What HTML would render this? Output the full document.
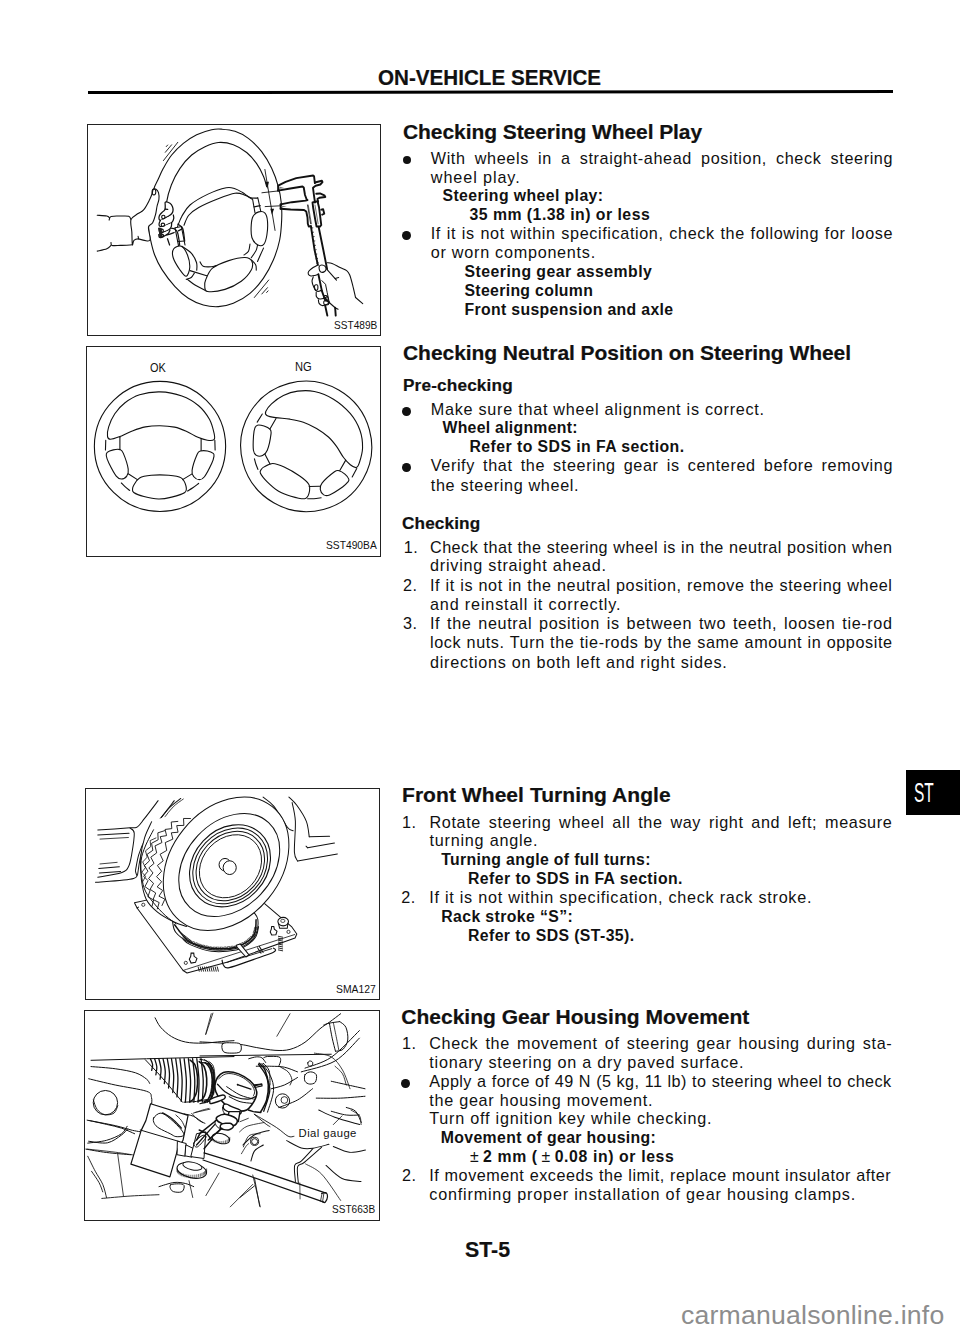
<!DOCTYPE html>
<html><head><meta charset="utf-8"><style>
html,body{margin:0;padding:0;background:#fff;}
body{width:960px;height:1332px;position:relative;overflow:hidden;font-family:"Liberation Sans",sans-serif;color:#111;}
.t{position:absolute;white-space:pre;}
.bu{position:absolute;background:#111;border-radius:50%;}
.rule{position:absolute;background:#111;}
svg{position:absolute;overflow:visible;}
.box{position:absolute;border:1.6px solid #222;box-sizing:border-box;}
</style></head><body>
<div class="box" style="left:86.6px;top:124.1px;width:294.40px;height:212.15px;border-width:1.6px"></div>
<div class="box" style="left:85.6px;top:345.9px;width:295.40px;height:211.10px;border-width:1.6px"></div>
<div class="box" style="left:85.1px;top:788.3px;width:294.80px;height:211.90px;border-width:1.6px"></div>
<div class="box" style="left:84.2px;top:1009.7px;width:295.70px;height:211.80px;border-width:1.6px"></div>
<svg style="left:0px;top:0px" width="960" height="1332" viewBox="0 0 6582.72 9133.52"><g transform="translate(1097.12,3060.96) rotate(0) translate(-480,-524)"><path d="M30,524 a450,446 0 1,0 900,0 a450,446 0 1,0 -900,0" fill="none" stroke="#111" stroke-width="7.54" stroke-linecap="round" stroke-linejoin="round" /><path d="M120,455C118.0,440.8 119.7,415.8 128,390C136.3,364.2 151.3,327.5 170,300C188.7,272.5 211.7,246.7 240,225C268.3,203.3 300.0,182.5 340,170C380.0,157.5 431.7,148.7 480,150C528.3,151.3 585.8,162.2 630,178C674.2,193.8 713.3,218.0 745,245C776.7,272.0 802.2,307.5 820,340C837.8,372.5 847.0,417.0 852,440C857.0,463.0 857.8,471.0 850,478C842.2,485.0 823.3,484.7 805,482C786.7,479.3 764.2,472.3 740,462C715.8,451.7 686.7,431.7 660,420C633.3,408.3 610.0,398.3 580,392C550.0,385.7 513.3,382.3 480,382C446.7,381.7 411.7,384.0 380,390C348.3,396.0 320.0,406.7 290,418C260.0,429.3 225.0,448.5 200,458C175.0,467.5 153.3,475.5 140,475C126.7,474.5 122.0,469.2 120,455Z" fill="none" stroke="#111" stroke-width="7.54" stroke-linecap="round" stroke-linejoin="round" /><path d="M205,462 L205,545" fill="none" stroke="#111" stroke-width="7.54" stroke-linecap="round" stroke-linejoin="round" /><path d="M762,470 L762,552" fill="none" stroke="#111" stroke-width="7.54" stroke-linecap="round" stroke-linejoin="round" /><path d="M108,482 L106,548" fill="none" stroke="#111" stroke-width="7.54" stroke-linecap="round" stroke-linejoin="round" /><path d="M856,482 L858,548" fill="none" stroke="#111" stroke-width="7.54" stroke-linecap="round" stroke-linejoin="round" /><path d="M215,775C219.2,779.2 230.5,791.5 240,800C249.5,808.5 266.7,821.7 272,826" fill="none" stroke="#111" stroke-width="7.54" stroke-linecap="round" stroke-linejoin="round" /><path d="M668,830C674.2,826.3 692.2,816.7 705,808C717.8,799.3 738.3,783.0 745,778" fill="none" stroke="#111" stroke-width="7.54" stroke-linecap="round" stroke-linejoin="round" /><path d="M118,565C126.0,558.0 145.5,551.2 160,548C174.5,544.8 193.7,542.3 205,546C216.3,549.7 218.5,547.7 228,570C237.5,592.3 258.0,653.7 262,680C266.0,706.3 259.8,716.7 252,728C244.2,739.3 227.0,748.0 215,748C203.0,748.0 194.2,746.0 180,728C165.8,710.0 141.3,663.0 130,640C118.7,617.0 114.0,602.5 112,590C110.0,577.5 110.0,572.0 118,565Z" fill="none" stroke="#111" stroke-width="7.54" stroke-linecap="round" stroke-linejoin="round" /><path d="M845,572C837.5,566.0 819.5,558.7 805,556C790.5,553.3 769.7,552.3 758,556C746.3,559.7 744.7,556.0 735,578C725.3,600.0 703.8,662.3 700,688C696.2,713.7 703.7,721.3 712,732C720.3,742.7 737.8,752.0 750,752C762.2,752.0 770.8,750.7 785,732C799.2,713.3 824.2,663.3 835,640C845.8,616.7 848.3,603.3 850,592C851.7,580.7 852.5,578.0 845,572Z" fill="none" stroke="#111" stroke-width="7.54" stroke-linecap="round" stroke-linejoin="round" /><path d="M262,712 L325,752" fill="none" stroke="#111" stroke-width="7.54" stroke-linecap="round" stroke-linejoin="round" /><path d="M635,752 L697,714" fill="none" stroke="#111" stroke-width="7.54" stroke-linecap="round" stroke-linejoin="round" /><path d="M300,790C308.0,777.5 320.0,751.3 340,740C360.0,728.7 386.7,725.0 420,722C453.3,719.0 505.8,719.0 540,722C574.2,725.0 605.3,727.8 625,740C644.7,752.2 653.8,778.3 658,795C662.2,811.7 666.3,827.2 650,840C633.7,852.8 590.0,864.5 560,872C530.0,879.5 501.7,885.7 470,885C438.3,884.3 398.3,875.5 370,868C341.7,860.5 313.0,848.8 300,840C287.0,831.2 292.0,823.3 292,815C292.0,806.7 292.0,802.5 300,790Z" fill="none" stroke="#111" stroke-width="7.54" stroke-linecap="round" stroke-linejoin="round" /></g><g transform="translate(2099.61,3060.96) rotate(30) translate(-480,-524)"><path d="M30,524 a450,446 0 1,0 900,0 a450,446 0 1,0 -900,0" fill="none" stroke="#111" stroke-width="7.54" stroke-linecap="round" stroke-linejoin="round" /><path d="M120,455C118.0,440.8 119.7,415.8 128,390C136.3,364.2 151.3,327.5 170,300C188.7,272.5 211.7,246.7 240,225C268.3,203.3 300.0,182.5 340,170C380.0,157.5 431.7,148.7 480,150C528.3,151.3 585.8,162.2 630,178C674.2,193.8 713.3,218.0 745,245C776.7,272.0 802.2,307.5 820,340C837.8,372.5 847.0,417.0 852,440C857.0,463.0 857.8,471.0 850,478C842.2,485.0 823.3,484.7 805,482C786.7,479.3 764.2,472.3 740,462C715.8,451.7 686.7,431.7 660,420C633.3,408.3 610.0,398.3 580,392C550.0,385.7 513.3,382.3 480,382C446.7,381.7 411.7,384.0 380,390C348.3,396.0 320.0,406.7 290,418C260.0,429.3 225.0,448.5 200,458C175.0,467.5 153.3,475.5 140,475C126.7,474.5 122.0,469.2 120,455Z" fill="none" stroke="#111" stroke-width="7.54" stroke-linecap="round" stroke-linejoin="round" /><path d="M205,462 L205,545" fill="none" stroke="#111" stroke-width="7.54" stroke-linecap="round" stroke-linejoin="round" /><path d="M762,470 L762,552" fill="none" stroke="#111" stroke-width="7.54" stroke-linecap="round" stroke-linejoin="round" /><path d="M108,482 L106,548" fill="none" stroke="#111" stroke-width="7.54" stroke-linecap="round" stroke-linejoin="round" /><path d="M856,482 L858,548" fill="none" stroke="#111" stroke-width="7.54" stroke-linecap="round" stroke-linejoin="round" /><path d="M215,775C219.2,779.2 230.5,791.5 240,800C249.5,808.5 266.7,821.7 272,826" fill="none" stroke="#111" stroke-width="7.54" stroke-linecap="round" stroke-linejoin="round" /><path d="M668,830C674.2,826.3 692.2,816.7 705,808C717.8,799.3 738.3,783.0 745,778" fill="none" stroke="#111" stroke-width="7.54" stroke-linecap="round" stroke-linejoin="round" /><path d="M118,565C126.0,558.0 145.5,551.2 160,548C174.5,544.8 193.7,542.3 205,546C216.3,549.7 218.5,547.7 228,570C237.5,592.3 258.0,653.7 262,680C266.0,706.3 259.8,716.7 252,728C244.2,739.3 227.0,748.0 215,748C203.0,748.0 194.2,746.0 180,728C165.8,710.0 141.3,663.0 130,640C118.7,617.0 114.0,602.5 112,590C110.0,577.5 110.0,572.0 118,565Z" fill="none" stroke="#111" stroke-width="7.54" stroke-linecap="round" stroke-linejoin="round" /><path d="M845,572C837.5,566.0 819.5,558.7 805,556C790.5,553.3 769.7,552.3 758,556C746.3,559.7 744.7,556.0 735,578C725.3,600.0 703.8,662.3 700,688C696.2,713.7 703.7,721.3 712,732C720.3,742.7 737.8,752.0 750,752C762.2,752.0 770.8,750.7 785,732C799.2,713.3 824.2,663.3 835,640C845.8,616.7 848.3,603.3 850,592C851.7,580.7 852.5,578.0 845,572Z" fill="none" stroke="#111" stroke-width="7.54" stroke-linecap="round" stroke-linejoin="round" /><path d="M262,712 L325,752" fill="none" stroke="#111" stroke-width="7.54" stroke-linecap="round" stroke-linejoin="round" /><path d="M635,752 L697,714" fill="none" stroke="#111" stroke-width="7.54" stroke-linecap="round" stroke-linejoin="round" /><path d="M300,790C308.0,777.5 320.0,751.3 340,740C360.0,728.7 386.7,725.0 420,722C453.3,719.0 505.8,719.0 540,722C574.2,725.0 605.3,727.8 625,740C644.7,752.2 653.8,778.3 658,795C662.2,811.7 666.3,827.2 650,840C633.7,852.8 590.0,864.5 560,872C530.0,879.5 501.7,885.7 470,885C438.3,884.3 398.3,875.5 370,868C341.7,860.5 313.0,848.8 300,840C287.0,831.2 292.0,823.3 292,815C292.0,806.7 292.0,802.5 300,790Z" fill="none" stroke="#111" stroke-width="7.54" stroke-linecap="round" stroke-linejoin="round" /></g></svg>
<svg style="left:140px;top:120px" width="160" height="200" viewBox="0 0 960.00 1200.00"><path d="M82,416C89.5,387.7 97.3,381.0 107,360C116.7,339.0 126.2,315.0 140,290C153.8,265.0 170.0,235.0 190,210C210.0,185.0 235.0,160.3 260,140C285.0,119.7 311.7,101.7 340,88C368.3,74.3 405.0,63.5 430,58C455.0,52.5 466.7,53.3 490,55C513.3,56.7 543.3,58.8 570,68C596.7,77.2 623.3,89.7 650,110C676.7,130.3 706.7,160.0 730,190C753.3,220.0 773.3,255.0 790,290C806.7,325.0 820.3,365.0 830,400C839.7,435.0 844.7,466.7 848,500C851.3,533.3 851.7,563.3 850,600C848.3,636.7 846.3,680.0 838,720C829.7,760.0 816.3,801.7 800,840C783.7,878.3 763.3,916.7 740,950C716.7,983.3 690.0,1015.0 660,1040C630.0,1065.0 591.7,1086.7 560,1100C528.3,1113.3 500.0,1118.3 470,1120C440.0,1121.7 410.0,1118.3 380,1110C350.0,1101.7 318.3,1088.3 290,1070C261.7,1051.7 236.3,1028.7 210,1000C183.7,971.3 152.3,929.7 132,898C111.7,866.3 99.3,839.3 88,810C76.7,780.7 70.2,750.2 64,722C57.8,693.8 51.3,673.0 51,641C50.7,609.0 56.8,567.5 62,530C67.2,492.5 74.5,444.3 82,416Z" fill="none" stroke="#111" stroke-width="6.60" stroke-linecap="round" stroke-linejoin="round" /><path d="M150,610C151.3,591.7 151.7,536.7 158,500C164.3,463.3 174.3,425.0 188,390C201.7,355.0 219.7,320.0 240,290C260.3,260.0 285.0,231.7 310,210C335.0,188.3 363.3,172.5 390,160C416.7,147.5 441.7,137.0 470,135C498.3,133.0 531.7,138.0 560,148C588.3,158.0 616.7,176.0 640,195C663.3,214.0 683.0,237.8 700,262C717.0,286.2 732.0,317.0 742,340C752.0,363.0 757.0,390.0 760,400" fill="none" stroke="#111" stroke-width="6.60" stroke-linecap="round" stroke-linejoin="round" /><path d="M140.4,243.6 L226.8,133.8" fill="none" stroke="#111" stroke-width="5.40" stroke-linecap="round" stroke-linejoin="round" /><path d="M151.8,193.8 L189.6,148.8" fill="none" stroke="#111" stroke-width="5.40" stroke-linecap="round" stroke-linejoin="round" /><path d="M157.5,159.6 L166.2,150" fill="none" stroke="#111" stroke-width="5.40" stroke-linecap="round" stroke-linejoin="round" /><path d="M686,1065 L772.5,960" fill="none" stroke="#111" stroke-width="5.40" stroke-linecap="round" stroke-linejoin="round" /><path d="M731,1044 L765,1006" fill="none" stroke="#111" stroke-width="5.40" stroke-linecap="round" stroke-linejoin="round" /><path d="M759.6,1035 L768.6,1025.4" fill="none" stroke="#111" stroke-width="5.40" stroke-linecap="round" stroke-linejoin="round" /></svg>
<svg style="left:170px;top:180px" width="120" height="120" viewBox="0 0 960.00 960.00"><path d="M60,372C65.8,358.3 78.3,318.7 95,290C111.7,261.3 125.8,229.2 160,200C194.2,170.8 251.7,138.0 300,115C348.3,92.0 413.3,69.5 450,62C486.7,54.5 498.3,63.7 520,70C541.7,76.3 560.0,88.3 580,100C600.0,111.7 620.0,132.5 640,140C660.0,147.5 690.0,144.2 700,145" fill="none" stroke="#111" stroke-width="8.80" stroke-linecap="round" stroke-linejoin="round" /><path d="M112,362C118.3,348.7 130.3,305.7 150,282C169.7,258.3 191.7,241.7 230,220C268.3,198.3 331.7,171.0 380,152C428.3,133.0 483.3,111.0 520,106C556.7,101.0 577.5,114.3 600,122C622.5,129.7 645.8,147.0 655,152" fill="none" stroke="#111" stroke-width="8.80" stroke-linecap="round" stroke-linejoin="round" /><path d="M40,382 L68,525" fill="none" stroke="#111" stroke-width="8.80" stroke-linecap="round" stroke-linejoin="round" /><path d="M92,378 L120,520" fill="none" stroke="#111" stroke-width="8.80" stroke-linecap="round" stroke-linejoin="round" /><path d="M62,492 L118,488" fill="none" stroke="#111" stroke-width="8.80" stroke-linecap="round" stroke-linejoin="round" /><path d="M42,382 L94,372" fill="none" stroke="#111" stroke-width="8.80" stroke-linecap="round" stroke-linejoin="round" /><path d="M30,550C40.8,535.0 71.7,521.7 90,530C108.3,538.3 128.7,571.7 140,600C151.3,628.3 159.7,671.7 158,700C156.3,728.3 143.0,766.7 130,770C117.0,773.3 97.5,745.0 80,720C62.5,695.0 33.3,648.3 25,620C16.7,591.7 19.2,565.0 30,550Z" fill="#fff" stroke="#111" stroke-width="8.80" stroke-linecap="round" stroke-linejoin="round" /><path d="M95,530C107.5,539.2 150.5,563.3 170,585C189.5,606.7 204.7,637.2 212,660C219.3,682.8 213.7,711.7 214,722" fill="none" stroke="#111" stroke-width="8.80" stroke-linecap="round" stroke-linejoin="round" /><path d="M160,725 L300,768" fill="none" stroke="#111" stroke-width="8.80" stroke-linecap="round" stroke-linejoin="round" /><path d="M130,795C136.7,792.5 159.2,788.3 170,780C180.8,771.7 190.8,750.8 195,745" fill="none" stroke="#111" stroke-width="8.80" stroke-linecap="round" stroke-linejoin="round" /><path d="M140,795C150.0,802.5 175.8,825.0 200,840C224.2,855.0 270.8,877.5 285,885" fill="none" stroke="#111" stroke-width="8.80" stroke-linecap="round" stroke-linejoin="round" /><path d="M285,800C295.3,775.8 309.2,730.8 340,705C370.8,679.2 426.7,659.2 470,645C513.3,630.8 569.2,619.2 600,620C630.8,620.8 646.7,633.3 655,650C663.3,666.7 664.2,693.3 650,720C635.8,746.7 605.0,784.2 570,810C535.0,835.8 485.0,861.3 440,875C395.0,888.7 327.0,896.2 300,892C273.0,887.8 280.5,865.3 278,850C275.5,834.7 274.7,824.2 285,800Z" fill="#fff" stroke="#111" stroke-width="8.80" stroke-linecap="round" stroke-linejoin="round" /><path d="M240,655C244.2,660.8 250.0,683.5 265,690C280.0,696.5 312.2,695.0 330,694C347.8,693.0 365.0,685.7 372,684" fill="none" stroke="#111" stroke-width="8.80" stroke-linecap="round" stroke-linejoin="round" /><path d="M665,290C675.0,272.5 694.2,259.2 710,255C725.8,250.8 748.3,252.5 760,265C771.7,277.5 777.5,300.8 780,330C782.5,359.2 780.0,409.2 775,440C770.0,470.8 762.5,502.0 750,515C737.5,528.0 715.8,527.2 700,518C684.2,508.8 663.3,486.3 655,460C646.7,433.7 648.3,388.3 650,360C651.7,331.7 655.0,307.5 665,290Z" fill="#fff" stroke="#111" stroke-width="8.80" stroke-linecap="round" stroke-linejoin="round" /><path d="M660,150 L680,262" fill="none" stroke="#111" stroke-width="8.80" stroke-linecap="round" stroke-linejoin="round" /><path d="M702,140 L726,250" fill="none" stroke="#111" stroke-width="8.80" stroke-linecap="round" stroke-linejoin="round" /><path d="M672,215 L722,205" fill="none" stroke="#111" stroke-width="8.80" stroke-linecap="round" stroke-linejoin="round" /><path d="M700,522C698.0,529.2 696.3,548.3 688,565C679.7,581.7 656.3,612.5 650,622" fill="none" stroke="#111" stroke-width="8.80" stroke-linecap="round" stroke-linejoin="round" /><path d="M748,545C743.7,554.5 730.0,584.2 722,602C714.0,619.8 703.7,643.7 700,652" fill="none" stroke="#111" stroke-width="8.80" stroke-linecap="round" stroke-linejoin="round" /><path d="M640,512C638.0,521.7 636.0,555.3 628,570C620.0,584.7 598.0,595.0 592,600" fill="none" stroke="#111" stroke-width="8.80" stroke-linecap="round" stroke-linejoin="round" /><path d="M652,640C657.7,646.7 679.7,666.3 686,680C692.3,693.7 689.3,715.0 690,722" fill="none" stroke="#111" stroke-width="8.80" stroke-linecap="round" stroke-linejoin="round" /></svg>
<svg style="left:86px;top:180px" width="100" height="100" viewBox="0 0 960.00 960.00"><path d="M108,338C123.3,339.2 180.5,341.0 200,345C219.5,349.0 220.8,359.2 225,362" fill="none" stroke="#111" stroke-width="10.56" stroke-linecap="round" stroke-linejoin="round" /><path d="M222,385C225.0,379.2 222.0,356.5 240,350C258.0,343.5 301.7,346.3 330,346C358.3,345.7 393.0,342.3 410,348C427.0,353.7 428.3,374.7 432,380" fill="none" stroke="#111" stroke-width="10.56" stroke-linecap="round" stroke-linejoin="round" /><path d="M108,683C123.3,679.2 178.0,669.2 200,660C222.0,650.8 233.3,633.3 240,628" fill="none" stroke="#111" stroke-width="10.56" stroke-linecap="round" stroke-linejoin="round" /><path d="M240,600C241.7,604.7 235.0,623.3 250,628C265.0,632.7 297.5,629.0 330,628C362.5,627.0 425.8,623.0 445,622" fill="none" stroke="#111" stroke-width="10.56" stroke-linecap="round" stroke-linejoin="round" /><path d="M432,380C442.0,350.3 479.5,337.8 500,322C520.5,306.2 536.7,307.0 555,285C573.3,263.0 596.7,215.8 610,190C623.3,164.2 629.2,146.3 635,130C640.8,113.7 638.8,99.0 645,92C651.2,85.0 663.5,83.0 672,88C680.5,93.0 691.3,105.8 696,122C700.7,138.2 702.3,163.3 700,185C697.7,206.7 687.3,227.8 682,252C676.7,276.2 675.0,303.7 668,330C661.0,356.3 651.3,389.7 640,410C628.7,430.3 604.2,424.5 600,452C595.8,479.5 621.7,553.7 615,575C608.3,596.3 579.2,581.7 560,580C540.8,578.3 516.7,565.0 500,565C483.3,565.0 469.2,570.8 460,580C450.8,589.2 448.3,633.3 445,620C441.7,606.7 442.2,540.0 440,500C437.8,460.0 422.0,409.7 432,380Z" fill="#fff" stroke="#111" stroke-width="10.56" stroke-linecap="round" stroke-linejoin="round" /><path d="M500,540L505,565" fill="none" stroke="#111" stroke-width="10.56" stroke-linecap="round" stroke-linejoin="round" /><ellipse cx="652" cy="115" rx="18" ry="28" fill="none" stroke="#111" stroke-width="10"/></svg>
<svg style="left:145px;top:195px" width="40" height="50" viewBox="0 0 960.00 1200.00"><path d="M490,170C509.2,161.7 571.7,181.7 600,200C628.3,218.3 648.0,250.0 660,280C672.0,310.0 675.3,351.7 672,380C668.7,408.3 658.7,428.3 640,450C621.3,471.7 588.3,491.7 560,510C531.7,528.3 496.7,545.0 470,560C443.3,575.0 420.0,593.3 400,600C380.0,606.7 360.8,610.0 350,600C339.2,590.0 333.3,561.7 335,540C336.7,518.3 344.2,493.3 360,470C375.8,446.7 410.0,420.0 430,400C450.0,380.0 470.8,375.0 480,350C489.2,325.0 483.3,280.0 485,250C486.7,220.0 470.8,178.3 490,170Z" fill="#fff" stroke="#111" stroke-width="30.00" stroke-linecap="round" stroke-linejoin="round" /><path d="M480,340 L545,345" fill="none" stroke="#111" stroke-width="30.00" stroke-linecap="round" stroke-linejoin="round" /><path d="M680,480C681.7,493.3 695.0,531.7 690,560C685.0,588.3 671.7,626.7 650,650C628.3,673.3 590.0,685.0 560,700C530.0,715.0 496.7,730.0 470,740C443.3,750.0 420.8,760.0 400,760C379.2,760.0 355.0,753.3 345,740C335.0,726.7 335.8,701.7 340,680C344.2,658.3 365.0,621.7 370,610" fill="#fff" stroke="#111" stroke-width="30.00" stroke-linecap="round" stroke-linejoin="round" /><path d="M640,670C638.3,685.0 640.0,733.3 630,760C620.0,786.7 605.0,810.0 580,830C555.0,850.0 510.0,868.3 480,880C450.0,891.7 422.5,900.0 400,900C377.5,900.0 356.7,896.7 345,880C333.3,863.3 332.5,813.3 330,800" fill="#fff" stroke="#111" stroke-width="30.00" stroke-linecap="round" stroke-linejoin="round" /><path d="M600,840C593.3,853.3 581.7,896.7 560,920C538.3,943.3 496.7,964.2 470,980C443.3,995.8 420.8,1009.2 400,1015C379.2,1020.8 356.7,1025.8 345,1015C333.3,1004.2 332.5,960.8 330,950" fill="#fff" stroke="#111" stroke-width="30.00" stroke-linecap="round" stroke-linejoin="round" /><path d="M700,900C683.3,906.7 630.0,930.0 600,940C570.0,950.0 533.3,956.7 520,960" fill="none" stroke="#111" stroke-width="30.00" stroke-linecap="round" stroke-linejoin="round" /><ellipse cx="440" cy="530" rx="40" ry="45" fill="none" stroke="#111" stroke-width="28"/><ellipse cx="430" cy="715" rx="42" ry="40" fill="none" stroke="#111" stroke-width="28"/><ellipse cx="410" cy="860" rx="30" ry="42" fill="none" stroke="#111" stroke-width="28"/><ellipse cx="420" cy="975" rx="25" ry="30" fill="none" stroke="#111" stroke-width="28"/><path d="M330,780 L400,790 L420,1010 L340,1020 Z" fill="#222"/><path d="M640,800C653.3,803.3 696.7,803.3 720,820C743.3,836.7 763.3,853.3 780,900C796.7,946.7 811.7,1050.0 820,1100C828.3,1150.0 828.3,1183.3 830,1200" fill="none" stroke="#111" stroke-width="30.00" stroke-linecap="round" stroke-linejoin="round" /><path d="M790,700C808.3,715.0 875.0,740.0 900,790C925.0,840.0 931.7,948.3 940,1000C948.3,1051.7 948.3,1083.3 950,1100" fill="none" stroke="#111" stroke-width="30.00" stroke-linecap="round" stroke-linejoin="round" /><path d="M540,1050 L590,1200" fill="none" stroke="#111" stroke-width="30.00" stroke-linecap="round" stroke-linejoin="round" /><path d="M800,860L880,820" fill="none" stroke="#111" stroke-width="30.00" stroke-linecap="round" stroke-linejoin="round" /></svg>
<svg style="left:250px;top:160px" width="130" height="170" viewBox="0 0 960.05 1255.45"><path d="M110,70 L185,520" fill="none" stroke="#111" stroke-width="6.65" stroke-linecap="round" stroke-linejoin="round" /><path d="M112,160 L140,160 L128,215Z M150,360 L178,360 L162,405Z" fill="#111"/><path d="M88,242 L212,228" fill="none" stroke="#111" stroke-width="6.65" stroke-linecap="round" stroke-linejoin="round" /><path d="M112,344 L232,338" fill="none" stroke="#111" stroke-width="6.65" stroke-linecap="round" stroke-linejoin="round" /></svg>
<svg style="left:270px;top:170px" width="60" height="60" viewBox="0 0 960.00 960.00"><path d="M130,330 L130,250 L250,190 L420,130 L690,88 L705,100 L718,210" fill="none" stroke="#111" stroke-width="30.40" stroke-linecap="round" stroke-linejoin="round" /><path d="M718,200 L830,172 L840,195 L805,232 L730,252 L688,285 L700,380 L720,520" fill="none" stroke="#111" stroke-width="30.40" stroke-linecap="round" stroke-linejoin="round" /><path d="M130,330 L300,300 L520,265 L540,280 L560,400 L590,480" fill="none" stroke="#111" stroke-width="30.40" stroke-linecap="round" stroke-linejoin="round" /><path d="M170,550 L350,515 L570,490 L600,480" fill="none" stroke="#111" stroke-width="30.40" stroke-linecap="round" stroke-linejoin="round" /><path d="M170,620 L330,632 L545,640 L580,665 L600,760 L605,860 L620,905 L655,900" fill="none" stroke="#111" stroke-width="30.40" stroke-linecap="round" stroke-linejoin="round" /><path d="M170,550 L170,620" fill="none" stroke="#111" stroke-width="30.40" stroke-linecap="round" stroke-linejoin="round" /><path d="M680,520 L760,500 L785,600 L820,880 L800,905 L745,905 L725,800 L690,600 L680,520" fill="none" stroke="#111" stroke-width="30.40" stroke-linecap="round" stroke-linejoin="round" /><path d="M740,380 L800,375 L870,405 L885,432 L790,445 L760,460 L770,510" fill="none" stroke="#111" stroke-width="30.40" stroke-linecap="round" stroke-linejoin="round" /><path d="M820,635 L850,628 L868,700 L835,715" fill="none" stroke="#111" stroke-width="30.40" stroke-linecap="round" stroke-linejoin="round" /><path d="M600,560 L650,860" fill="none" stroke="#111" stroke-width="12.80" stroke-linecap="round" stroke-linejoin="round" /><path d="M612,560 L662,860" fill="none" stroke="#111" stroke-width="9.60" stroke-linecap="round" stroke-linejoin="round" /><path d="M720,560 L770,860" fill="none" stroke="#111" stroke-width="9.60" stroke-linecap="round" stroke-linejoin="round" /><path d="M150,262 L240,290 L150,300Z M180,570 L270,580 L182,600Z" fill="#777"/></svg>
<svg style="left:300px;top:250px" width="70" height="70" viewBox="0 0 959.98 959.98"><path d="M150,-325 L200,0 L245,205" fill="none" stroke="#111" stroke-width="26.06" stroke-linecap="round" stroke-linejoin="round" /><path d="M255,-318 L320,0 L372,262" fill="none" stroke="#111" stroke-width="26.06" stroke-linecap="round" stroke-linejoin="round" /><path d="M153.85,-300 L175.85,-304" fill="none" stroke="#111" stroke-width="10.97" stroke-linecap="round" stroke-linejoin="round" /><path d="M163.09,-240 L185.09,-244" fill="none" stroke="#111" stroke-width="10.97" stroke-linecap="round" stroke-linejoin="round" /><path d="M172.32999999999998,-180 L194.32999999999998,-184" fill="none" stroke="#111" stroke-width="10.97" stroke-linecap="round" stroke-linejoin="round" /><path d="M181.57,-120 L203.57,-124" fill="none" stroke="#111" stroke-width="10.97" stroke-linecap="round" stroke-linejoin="round" /><path d="M190.81,-60 L212.81,-64" fill="none" stroke="#111" stroke-width="10.97" stroke-linecap="round" stroke-linejoin="round" /><path d="M200.05,0 L222.05,-4" fill="none" stroke="#111" stroke-width="10.97" stroke-linecap="round" stroke-linejoin="round" /><path d="M209.29,60 L231.29,56" fill="none" stroke="#111" stroke-width="10.97" stroke-linecap="round" stroke-linejoin="round" /><path d="M218.53,120 L240.53,116" fill="none" stroke="#111" stroke-width="10.97" stroke-linecap="round" stroke-linejoin="round" /><path d="M227.76999999999998,180 L249.76999999999998,176" fill="none" stroke="#111" stroke-width="10.97" stroke-linecap="round" stroke-linejoin="round" /><path d="M245,205C234.2,210.8 200.8,225.5 180,240C159.2,254.5 130.8,276.7 120,292C109.2,307.3 110.0,321.3 115,332C120.0,342.7 135.8,353.0 150,356C164.2,359.0 183.0,354.0 200,350C217.0,346.0 243.3,335.0 252,332" fill="#fff" stroke="#111" stroke-width="15.09" stroke-linecap="round" stroke-linejoin="round" /><path d="M265,222C270.8,211.2 286.7,204.5 300,205C313.3,205.5 335.7,214.2 345,225C354.3,235.8 358.5,257.5 356,270C353.5,282.5 341.8,294.7 330,300C318.2,305.3 295.8,307.0 285,302C274.2,297.0 268.3,283.3 265,270C261.7,256.7 259.2,232.8 265,222Z" fill="#fff" stroke="#111" stroke-width="15.09" stroke-linecap="round" stroke-linejoin="round" /><path d="M372,175C383.3,176.7 410.3,174.2 440,185C469.7,195.8 516.7,223.8 550,240C583.3,256.2 618.0,265.0 640,282C662.0,299.0 668.3,308.7 682,342C695.7,375.3 708.7,430.3 722,482C735.3,533.7 755.3,623.7 762,652" fill="none" stroke="#111" stroke-width="15.09" stroke-linecap="round" stroke-linejoin="round" /><path d="M762,652 L860,735" fill="none" stroke="#111" stroke-width="15.09" stroke-linecap="round" stroke-linejoin="round" /><path d="M372,270 L500,412" fill="none" stroke="#111" stroke-width="15.09" stroke-linecap="round" stroke-linejoin="round" /><path d="M482,392 L530,377" fill="none" stroke="#111" stroke-width="15.09" stroke-linecap="round" stroke-linejoin="round" /><path d="M182,368C179.2,378.3 163.7,406.3 165,430C166.3,453.7 180.5,488.3 190,510C199.5,531.7 210.0,550.7 222,560C234.0,569.3 249.0,567.7 262,566C275.0,564.3 293.7,552.7 300,550" fill="none" stroke="#111" stroke-width="15.09" stroke-linecap="round" stroke-linejoin="round" /><path d="M222,580C222.7,590.0 218.0,624.7 226,640C234.0,655.3 252.3,668.3 270,672C287.7,675.7 315.0,667.3 332,662C349.0,656.7 365.3,643.7 372,640" fill="none" stroke="#111" stroke-width="15.09" stroke-linecap="round" stroke-linejoin="round" /><path d="M252,682C253.7,690.3 253.7,718.7 262,732C270.3,745.3 287.0,758.7 302,762C317.0,765.3 337.0,757.0 352,752C367.0,747.0 385.3,735.3 392,732" fill="none" stroke="#111" stroke-width="15.09" stroke-linecap="round" stroke-linejoin="round" /><path d="M200,490C205.0,478.7 233.0,471.7 240,480C247.0,488.3 247.0,528.7 242,540C237.0,551.3 217.0,556.3 210,548C203.0,539.7 195.0,501.3 200,490Z" fill="none" stroke="#111" stroke-width="15.09" stroke-linecap="round" stroke-linejoin="round" /><path d="M252,332 L300,560 L332,652 L400,720" fill="none" stroke="#111" stroke-width="26.06" stroke-linecap="round" stroke-linejoin="round" /><path d="M300,420 L350,470 L372,580 L402,722" fill="none" stroke="#111" stroke-width="13.71" stroke-linecap="round" stroke-linejoin="round" /><path d="M330,630C335.8,620.8 365.8,625.0 375,635C384.2,645.0 390.8,680.8 385,690C379.2,699.2 349.2,700.0 340,690C330.8,680.0 324.2,639.2 330,630Z" fill="none" stroke="#111" stroke-width="15.09" stroke-linecap="round" stroke-linejoin="round" /><path d="M330,700C338.3,691.7 375.0,692.5 385,700C395.0,707.5 398.3,736.7 390,745C381.7,753.3 345.0,757.5 335,750C325.0,742.5 321.7,708.3 330,700Z" fill="none" stroke="#111" stroke-width="15.09" stroke-linecap="round" stroke-linejoin="round" /><path d="M345,762 L375,900" fill="none" stroke="#111" stroke-width="26.06" stroke-linecap="round" stroke-linejoin="round" /><path d="M482,792 L490,900" fill="none" stroke="#111" stroke-width="26.06" stroke-linecap="round" stroke-linejoin="round" /><path d="M482,792 L522,812" fill="none" stroke="#111" stroke-width="15.09" stroke-linecap="round" stroke-linejoin="round" /><path d="M400,720 L482,792" fill="none" stroke="#111" stroke-width="15.09" stroke-linecap="round" stroke-linejoin="round" /></svg>
<svg style="left:130px;top:900px" width="170" height="80" viewBox="0 0 959.99 451.76"><path d="M120,-5 L25,15 L40,45 L300,398 L322,412 L552,350 L932,215 L942,192 L912,150 L760,20" fill="none" stroke="#111" stroke-width="5.65" stroke-linecap="round" stroke-linejoin="round" /><path d="M40,45 L48,40" fill="none" stroke="#111" stroke-width="5.65" stroke-linecap="round" stroke-linejoin="round" /><path d="M300,398 L318,392 L930,195" fill="none" stroke="#111" stroke-width="4.52" stroke-linecap="round" stroke-linejoin="round" /><circle cx="75" cy="27" r="9" fill="none" stroke="#111" stroke-width="4.5"/><circle cx="315" cy="355" r="9" fill="none" stroke="#111" stroke-width="4.5"/><circle cx="895" cy="180" r="9" fill="none" stroke="#111" stroke-width="4.5"/><path d="M240,120C243.0,130.3 241.7,161.7 258,182C274.3,202.3 306.0,225.7 338,242C370.0,258.3 412.2,273.7 450,280C487.8,286.3 530.8,284.7 565,280C599.2,275.3 630.5,266.7 655,252C679.5,237.3 700.8,215.7 712,192C723.2,168.3 724.0,130.3 722,110C720.0,89.7 703.7,76.7 700,70" fill="#fff" stroke="#111" stroke-width="5.65" stroke-linecap="round" stroke-linejoin="round" /><path d="M252,140C265.3,155.3 297.3,210.0 332,232C366.7,254.0 415.3,266.5 460,272C504.7,277.5 560.3,277.0 600,265C639.7,253.0 679.3,225.5 698,200C716.7,174.5 709.7,126.7 712,112" fill="none" stroke="#111" stroke-width="8.47" stroke-linecap="round" stroke-linejoin="round" /><path d="M275,175L345,230" fill="none" stroke="#111" stroke-width="4.52" stroke-linecap="round" stroke-linejoin="round" /><rect x="299.8" y="205.5" width="14" height="12" transform="rotate(40.2 307.8 211.5)" fill="none" stroke="#111" stroke-width="3.5"/><rect x="315.3" y="218.6" width="14" height="12" transform="rotate(40.2 323.3 224.6)" fill="none" stroke="#111" stroke-width="3.5"/><rect x="332.3" y="229.2" width="14" height="12" transform="rotate(20.9 340.3 235.2)" fill="none" stroke="#111" stroke-width="3.5"/><rect x="351.3" y="236.4" width="14" height="12" transform="rotate(20.9 359.3 242.4)" fill="none" stroke="#111" stroke-width="3.5"/><rect x="370.2" y="243.7" width="14" height="12" transform="rotate(20.9 378.2 249.7)" fill="none" stroke="#111" stroke-width="3.5"/><rect x="389.2" y="250.9" width="14" height="12" transform="rotate(20.9 397.2 256.9)" fill="none" stroke="#111" stroke-width="3.5"/><rect x="408.8" y="255.9" width="14" height="12" transform="rotate(13.1 416.8 261.9)" fill="none" stroke="#111" stroke-width="3.5"/><rect x="428.6" y="260.5" width="14" height="12" transform="rotate(13.1 436.6 266.5)" fill="none" stroke="#111" stroke-width="3.5"/><rect x="448.4" y="265.2" width="14" height="12" transform="rotate(13.1 456.4 271.2)" fill="none" stroke="#111" stroke-width="3.5"/><rect x="468.6" y="266.0" width="14" height="12" transform="rotate(0.0 476.6 272.0)" fill="none" stroke="#111" stroke-width="3.5"/><rect x="488.9" y="266.0" width="14" height="12" transform="rotate(0.0 496.9 272.0)" fill="none" stroke="#111" stroke-width="3.5"/><rect x="509.2" y="266.0" width="14" height="12" transform="rotate(0.0 517.2 272.0)" fill="none" stroke="#111" stroke-width="3.5"/><rect x="529.4" y="265.3" width="14" height="12" transform="rotate(-5.7 537.4 271.3)" fill="none" stroke="#111" stroke-width="3.5"/><rect x="549.6" y="263.2" width="14" height="12" transform="rotate(-5.7 557.6 269.2)" fill="none" stroke="#111" stroke-width="3.5"/><rect x="569.8" y="261.2" width="14" height="12" transform="rotate(-5.7 577.8 267.2)" fill="none" stroke="#111" stroke-width="3.5"/><rect x="590.0" y="259.2" width="14" height="12" transform="rotate(-5.7 598.0 265.2)" fill="none" stroke="#111" stroke-width="3.5"/><rect x="608.4" y="250.9" width="14" height="12" transform="rotate(-26.1 616.4 256.9)" fill="none" stroke="#111" stroke-width="3.5"/><rect x="626.7" y="242.0" width="14" height="12" transform="rotate(-26.1 634.7 248.0)" fill="none" stroke="#111" stroke-width="3.5"/><rect x="644.9" y="233.0" width="14" height="12" transform="rotate(-26.1 652.9 239.0)" fill="none" stroke="#111" stroke-width="3.5"/><rect x="660.5" y="220.1" width="14" height="12" transform="rotate(-41.5 668.5 226.1)" fill="none" stroke="#111" stroke-width="3.5"/><rect x="675.7" y="206.7" width="14" height="12" transform="rotate(-41.5 683.7 212.7)" fill="none" stroke="#111" stroke-width="3.5"/><rect x="690.3" y="192.9" width="14" height="12" transform="rotate(-74.4 698.3 198.9)" fill="none" stroke="#111" stroke-width="3.5"/><rect x="695.8" y="173.3" width="14" height="12" transform="rotate(-74.4 703.8 179.3)" fill="none" stroke="#111" stroke-width="3.5"/><rect x="701.3" y="153.8" width="14" height="12" transform="rotate(-74.4 709.3 159.8)" fill="none" stroke="#111" stroke-width="3.5"/><path d="M300,222C306.7,227.0 313.3,240.7 340,252C366.7,263.3 416.7,285.0 460,290C503.3,295.0 565.3,288.7 600,282C634.7,275.3 649.3,262.8 668,250C686.7,237.2 702.3,221.7 712,205C721.7,188.3 723.7,159.2 726,150" fill="none" stroke="#111" stroke-width="5.65" stroke-linecap="round" stroke-linejoin="round" /><path d="M600,255 L622,248 L672,310 L655,322 L605,268Z" fill="#fff" stroke="#111" stroke-width="5.65" stroke-linecap="round" stroke-linejoin="round" /><path d="M520,340C521.3,344.7 521.3,361.0 528,368C534.7,375.0 531.3,387.5 560,382C588.7,376.5 659.2,349.0 700,335C740.8,321.0 784.7,306.8 805,298C825.3,289.2 821.2,286.3 822,282C822.8,277.7 812.0,273.7 810,272" fill="none" stroke="#111" stroke-width="6.78" stroke-linecap="round" stroke-linejoin="round" /><path d="M548,352 L800,275" fill="none" stroke="#111" stroke-width="5.08" stroke-linecap="round" stroke-linejoin="round" /><path d="M720,270 L740,300" fill="none" stroke="#111" stroke-width="5.65" stroke-linecap="round" stroke-linejoin="round" /><path d="M730,262 L752,296" fill="none" stroke="#111" stroke-width="5.65" stroke-linecap="round" stroke-linejoin="round" /><ellipse cx="865" cy="122" rx="30" ry="24" fill="#fff" stroke="#111" stroke-width="6"/><ellipse cx="863" cy="118" rx="12" ry="9" fill="none" stroke="#111" stroke-width="4"/><path d="M838,130 L845,160 L888,160 L892,130" fill="none" stroke="#111" stroke-width="5.65" stroke-linecap="round" stroke-linejoin="round" /><path d="M345,300 L360,300 L362,318 L378,330 L370,352 L345,356 L335,335 L343,318Z" fill="#fff" stroke="#111" stroke-width="6"/><path d="M800,150 L812,150 L815,165 L830,176 L824,196 L800,198 L792,180 L798,165Z" fill="#fff" stroke="#111" stroke-width="6"/><path d="M385,378 L391,402" fill="none" stroke="#111" stroke-width="5.08" stroke-linecap="round" stroke-linejoin="round" /><path d="M397,378 L403,402" fill="none" stroke="#111" stroke-width="5.08" stroke-linecap="round" stroke-linejoin="round" /><path d="M409,378 L415,402" fill="none" stroke="#111" stroke-width="5.08" stroke-linecap="round" stroke-linejoin="round" /><path d="M421,378 L427,402" fill="none" stroke="#111" stroke-width="5.08" stroke-linecap="round" stroke-linejoin="round" /><path d="M433,378 L439,402" fill="none" stroke="#111" stroke-width="5.08" stroke-linecap="round" stroke-linejoin="round" /><path d="M445,378 L451,402" fill="none" stroke="#111" stroke-width="5.08" stroke-linecap="round" stroke-linejoin="round" /><path d="M457,378 L463,402" fill="none" stroke="#111" stroke-width="5.08" stroke-linecap="round" stroke-linejoin="round" /><path d="M469,378 L475,402" fill="none" stroke="#111" stroke-width="5.08" stroke-linecap="round" stroke-linejoin="round" /><path d="M481,378 L487,402" fill="none" stroke="#111" stroke-width="5.08" stroke-linecap="round" stroke-linejoin="round" /><path d="M493,378 L499,402" fill="none" stroke="#111" stroke-width="5.08" stroke-linecap="round" stroke-linejoin="round" /><path d="M838,205 L862,210" fill="none" stroke="#111" stroke-width="5.08" stroke-linecap="round" stroke-linejoin="round" /><path d="M838,216 L862,221" fill="none" stroke="#111" stroke-width="5.08" stroke-linecap="round" stroke-linejoin="round" /><path d="M838,227 L862,232" fill="none" stroke="#111" stroke-width="5.08" stroke-linecap="round" stroke-linejoin="round" /><path d="M838,238 L862,243" fill="none" stroke="#111" stroke-width="5.08" stroke-linecap="round" stroke-linejoin="round" /><path d="M838,249 L862,254" fill="none" stroke="#111" stroke-width="5.08" stroke-linecap="round" stroke-linejoin="round" /><path d="M838,260 L862,265" fill="none" stroke="#111" stroke-width="5.08" stroke-linecap="round" stroke-linejoin="round" /><path d="M838,271 L862,276" fill="none" stroke="#111" stroke-width="5.08" stroke-linecap="round" stroke-linejoin="round" /><path d="M838,282 L862,287" fill="none" stroke="#111" stroke-width="5.08" stroke-linecap="round" stroke-linejoin="round" /><path d="M230,90C241.7,95.0 263.3,111.7 300,120C336.7,128.3 400.0,140.3 450,140C500.0,139.7 558.3,131.3 600,118C641.7,104.7 674.7,79.7 700,60C725.3,40.3 743.3,10.0 752,0" fill="none" stroke="#111" stroke-width="5.65" stroke-linecap="round" stroke-linejoin="round" /></svg>
<svg style="left:80px;top:770px" width="310" height="230" viewBox="0 0 960.07 712.31"><path d="M55,186C71.7,184.8 134.5,180.7 155,179C175.5,177.3 170.5,180.8 178,176C185.5,171.2 189.3,163.5 200,150C210.7,136.5 235.0,104.2 242,95" fill="none" stroke="#111" stroke-width="3.10" stroke-linecap="round" stroke-linejoin="round" /><path d="M55,201 L152,196" fill="none" stroke="#111" stroke-width="3.10" stroke-linecap="round" stroke-linejoin="round" /><path d="M62,214 L150,209" fill="none" stroke="#111" stroke-width="2.48" stroke-linecap="round" stroke-linejoin="round" /><path d="M155,180C157.2,182.7 167.2,182.3 168,196C168.8,209.7 163.0,244.7 160,262C157.0,279.3 155.3,290.7 150,300C144.7,309.3 143.8,312.7 128,318C112.2,323.3 67.2,329.7 55,332" fill="none" stroke="#111" stroke-width="3.10" stroke-linecap="round" stroke-linejoin="round" /><path d="M62,291 L115,286" fill="none" stroke="#111" stroke-width="2.48" stroke-linecap="round" stroke-linejoin="round" /><path d="M58,305 L122,300" fill="none" stroke="#111" stroke-width="3.10" stroke-linecap="round" stroke-linejoin="round" /><path d="M60,319 L126,314" fill="none" stroke="#111" stroke-width="3.10" stroke-linecap="round" stroke-linejoin="round" /><path d="M48,348C67.7,346.0 145.3,342.3 166,336C186.7,329.7 169.3,322.3 172,310C174.7,297.7 177.0,277.8 182,262C187.0,246.2 192.0,232.0 202,215C212.0,198.0 227.0,180.0 242,160C257.0,140.0 283.7,105.8 292,95" fill="none" stroke="#111" stroke-width="3.10" stroke-linecap="round" stroke-linejoin="round" /><path d="M178,326C180.3,313.7 183.7,276.0 192,252C200.3,228.0 214.7,203.7 228,182C241.3,160.3 258.0,137.7 272,122C286.0,106.3 305.3,93.7 312,88" fill="none" stroke="#111" stroke-width="3.10" stroke-linecap="round" stroke-linejoin="round" /><path d="M190,300C192.5,290.0 196.7,260.3 205,240C213.3,219.7 226.7,198.3 240,178C253.3,157.7 271.7,132.7 285,118C298.3,103.3 314.2,94.7 320,90" fill="none" stroke="#111" stroke-width="2.48" stroke-linecap="round" stroke-linejoin="round" /><path d="M567,84C572.5,88.7 587.3,96.3 600,112C612.7,127.7 633.0,165.3 643,178C653.0,190.7 657.2,186.3 660,188" fill="none" stroke="#111" stroke-width="3.10" stroke-linecap="round" stroke-linejoin="round" /><path d="M647,84C651.2,88.3 663.0,97.5 672,110C681.0,122.5 694.7,142.8 701,159C707.3,175.2 708.5,199.0 710,207" fill="none" stroke="#111" stroke-width="3.10" stroke-linecap="round" stroke-linejoin="round" /><path d="M710,207 L773,205" fill="none" stroke="#111" stroke-width="3.10" stroke-linecap="round" stroke-linejoin="round" /><path d="M657,101C658.7,110.7 665.8,133.3 667,159C668.2,184.7 662.8,234.5 664,255C665.2,275.5 672.3,277.5 674,282" fill="none" stroke="#111" stroke-width="3.10" stroke-linecap="round" stroke-linejoin="round" /><path d="M674,282 L797,260" fill="none" stroke="#111" stroke-width="3.10" stroke-linecap="round" stroke-linejoin="round" /><path d="M705,241 L788,226" fill="none" stroke="#111" stroke-width="3.10" stroke-linecap="round" stroke-linejoin="round" /><path d="M700,236 L705,241" fill="none" stroke="#111" stroke-width="3.10" stroke-linecap="round" stroke-linejoin="round" /><path d="M255,335L240,180" fill="none" stroke="#111" stroke-width="0.31" stroke-linecap="round" stroke-linejoin="round" /><path d="M222,160C200.3,170.0 205.7,191.7 200,210C194.3,228.3 189.7,248.3 188,270C186.3,291.7 187.2,318.3 190,340C192.8,361.7 196.7,383.3 205,400C213.3,416.7 225.8,428.3 240,440C254.2,451.7 275.0,462.5 290,470C305.0,477.5 308.3,481.7 330,485C351.7,488.3 411.7,520.8 420,490C428.3,459.2 395.0,356.7 380,300C365.0,243.3 356.3,173.3 330,150C303.7,126.7 243.7,150.0 222,160Z" fill="#fff" stroke="none"/><path d="M222,160C218.3,168.3 205.7,191.7 200,210C194.3,228.3 189.7,248.3 188,270C186.3,291.7 187.2,318.3 190,340C192.8,361.7 196.7,383.3 205,400C213.3,416.7 225.8,428.3 240,440C254.2,451.7 275.0,462.5 290,470C305.0,477.5 323.3,482.5 330,485" fill="none" stroke="#111" stroke-width="3.10" stroke-linecap="round" stroke-linejoin="round" /></svg>
<svg style="left:140px;top:810px" width="60" height="120" viewBox="0 0 666.00 1332.00"><path d="M560.2,94.4 L483.1,94.0 L486.9,171.0 L407.6,173.2 L422.4,246.8 L347.6,253.2 L364.7,323.3 L280.3,361.7 L296.6,448.9 L223.4,491.1 L257.7,564.2 L193.3,615.8 L240.0,680.0 L184.0,740.0 L239.8,796.4 L190.7,853.6 L252.2,893.2 L210.3,956.8 L276.0,989.6 L244.0,1060.4" fill="none" stroke="#111" stroke-width="9.99" stroke-linecap="round" stroke-linejoin="round" /><path d="M420.0,126.6 L346.7,133.4 L353.3,206.6 L278.4,215.6 L295.0,284.4 L225.0,295.6 L243.3,361.6 L166.7,398.4 L185.2,476.3 L119.8,523.7 L155.8,592.8 L98.2,642.2 L144.0,698.5 L95.5,761.5 L150.4,814.2 L112.1,880.8 L174.4,921.1 L145.6,993.9 L212.7,1027.4 L192.3,1097.6" fill="none" stroke="#111" stroke-width="9.99" stroke-linecap="round" stroke-linejoin="round" /><path d="M274.5,228.9 L198.0,253.6 L201.5,330.7 L128.5,369.3 L142.9,447.2 L78.1,492.8 L105.7,563.6 L49.3,616.4 L88.0,679.6 L41.0,735.4 L89.4,784.9 L54.6,850.1 L112.6,891.8 L87.4,963.2 L151.0,998.3 L134.0,1066.7" fill="none" stroke="#111" stroke-width="9.99" stroke-linecap="round" stroke-linejoin="round" /><path d="M177.1,310.3 L112.9,339.7 L119.0,406.3 L61.0,453.7 L79.7,523.3 L30.3,576.7 L60.0,639.6 L21.0,690.4 L61.7,736.5 L31.3,793.5" fill="none" stroke="#111" stroke-width="8.88" stroke-linecap="round" stroke-linejoin="round" /><path d="M150,220C135.0,250.0 83.0,343.3 60,400C37.0,456.7 18.7,501.7 12,560C5.3,618.3 12.0,693.3 20,750C28.0,806.7 38.3,853.3 60,900C81.7,946.7 113.3,985.0 150,1030C186.7,1075.0 238.3,1131.3 280,1170C321.7,1208.7 380.0,1246.7 400,1262" fill="none" stroke="#111" stroke-width="11.10" stroke-linecap="round" stroke-linejoin="round" /></svg>
<svg style="left:150px;top:790px" width="150" height="150" viewBox="0 0 960.00 960.00"><ellipse cx="487" cy="472" rx="470" ry="350" transform="rotate(-51 487 472)" fill="#fff" stroke="#111" stroke-width="6.40"/><ellipse cx="507" cy="480" rx="370" ry="275" transform="rotate(-47 507 480)" fill="none" stroke="#111" stroke-width="6.40"/><ellipse cx="512" cy="485" rx="285" ry="234" transform="rotate(-47 512 485)" fill="none" stroke="#111" stroke-width="7.04"/><ellipse cx="513" cy="486" rx="263" ry="216" transform="rotate(-47 513 486)" fill="none" stroke="#111" stroke-width="6.40"/><ellipse cx="514" cy="487" rx="241" ry="198" transform="rotate(-47 514 487)" fill="none" stroke="#111" stroke-width="6.40"/><ellipse cx="515" cy="488" rx="219" ry="180" transform="rotate(-47 515 488)" fill="none" stroke="#111" stroke-width="5.76"/><ellipse cx="480" cy="478" rx="38" ry="40" transform="rotate(0 480 478)" fill="none" stroke="#111" stroke-width="6.40"/><ellipse cx="510" cy="497" rx="42" ry="44" transform="rotate(0 510 497)" fill="#fff" stroke="#111" stroke-width="6.40"/></svg>
<svg style="left:84px;top:1010px" width="150" height="150" viewBox="0 0 960.00 960.00"><path d="M455,50C460.8,60.0 472.5,90.0 490,110C507.5,130.0 533.3,154.2 560,170C586.7,185.8 616.7,198.0 650,205C683.3,212.0 721.7,212.5 760,212C798.3,211.5 846.7,204.7 880,202C913.3,199.3 946.7,197.0 960,196" fill="none" stroke="#111" stroke-width="6.40" stroke-linecap="round" stroke-linejoin="round" /><path d="M780,155 L825,20" fill="none" stroke="#111" stroke-width="5.12" stroke-linecap="round" stroke-linejoin="round" /><path d="M45,322 L400,312 L960,298" fill="none" stroke="#111" stroke-width="6.40" stroke-linecap="round" stroke-linejoin="round" /><path d="M45,362C70.8,364.3 152.5,369.3 200,376C247.5,382.7 296.7,391.0 330,402C363.3,413.0 385.0,430.7 400,442C415.0,453.3 416.7,465.3 420,470" fill="none" stroke="#111" stroke-width="6.40" stroke-linecap="round" stroke-linejoin="round" /><path d="M30,440C58.3,446.7 138.3,466.7 200,480C261.7,493.3 361.3,506.7 400,520C438.7,533.3 426.7,545.0 432,560C437.3,575.0 432.0,601.7 432,610" fill="none" stroke="#111" stroke-width="6.40" stroke-linecap="round" stroke-linejoin="round" /><circle cx="137" cy="593" r="78" fill="none" stroke="#111" stroke-width="6.4"/><path d="M20,705C50.0,710.8 151.7,729.2 200,740C248.3,750.8 276.7,762.5 310,770C343.3,777.5 385.0,782.5 400,785" fill="none" stroke="#111" stroke-width="6.40" stroke-linecap="round" stroke-linejoin="round" /><path d="M30,840C50.0,841.7 115.0,856.7 150,850C185.0,843.3 218.3,815.0 240,800C261.7,785.0 273.3,766.7 280,760" fill="none" stroke="#111" stroke-width="6.40" stroke-linecap="round" stroke-linejoin="round" /><path d="M20,890C50.0,893.3 148.3,903.3 200,910C251.7,916.7 308.3,926.7 330,930" fill="none" stroke="#111" stroke-width="5.12" stroke-linecap="round" stroke-linejoin="round" /><path d="M392,318 L470,400 L540,480 L630,590" fill="none" stroke="#111" stroke-width="6.40" stroke-linecap="round" stroke-linejoin="round" /><path d="M425,312C427.3,318.2 437.7,336.8 439,349.125C440.3,361.5 434.0,380.1 433,386.25" fill="none" stroke="#111" stroke-width="8.32" stroke-linecap="round" stroke-linejoin="round" /><path d="M452,312C454.3,320.6 464.7,346.2 466,363.3C467.3,380.4 461.0,406.1 460,414.6" fill="none" stroke="#111" stroke-width="8.32" stroke-linecap="round" stroke-linejoin="round" /><path d="M479,312C481.3,322.9 491.7,355.7 493,377.475C494.3,399.3 488.0,432.0 487,442.95" fill="none" stroke="#111" stroke-width="8.32" stroke-linecap="round" stroke-linejoin="round" /><path d="M506,312C508.3,325.3 518.7,365.1 520,391.65C521.3,418.2 515.0,458.0 514,471.3" fill="none" stroke="#111" stroke-width="8.32" stroke-linecap="round" stroke-linejoin="round" /><path d="M533,312C535.3,327.6 545.7,374.6 547,405.825C548.3,437.1 542.0,484.0 541,499.65" fill="none" stroke="#111" stroke-width="8.32" stroke-linecap="round" stroke-linejoin="round" /><path d="M560,312C562.3,330.0 572.7,384.0 574,420.0C575.3,456.0 569.0,510.0 568,528.0" fill="none" stroke="#111" stroke-width="8.32" stroke-linecap="round" stroke-linejoin="round" /><path d="M587,312C589.3,332.4 599.7,393.4 601,434.175C602.3,474.9 596.0,536.0 595,556.35" fill="none" stroke="#111" stroke-width="8.32" stroke-linecap="round" stroke-linejoin="round" /><path d="M614,312C616.3,334.7 626.7,402.9 628,448.35C629.3,493.8 623.0,562.0 622,584.7" fill="none" stroke="#111" stroke-width="8.32" stroke-linecap="round" stroke-linejoin="round" /><path d="M641,312C643.3,335.2 653.7,404.7 655,451.0C656.3,497.3 650.0,566.8 649,590" fill="none" stroke="#111" stroke-width="8.32" stroke-linecap="round" stroke-linejoin="round" /><path d="M668,312C670.3,335.2 680.7,404.7 682,451.0C683.3,497.3 677.0,566.8 676,590" fill="none" stroke="#111" stroke-width="8.32" stroke-linecap="round" stroke-linejoin="round" /><path d="M695,312C697.3,335.2 707.7,404.7 709,451.0C710.3,497.3 704.0,566.8 703,590" fill="none" stroke="#111" stroke-width="8.32" stroke-linecap="round" stroke-linejoin="round" /><path d="M722,312C724.3,335.2 734.7,404.7 736,451.0C737.3,497.3 731.0,566.8 730,590" fill="none" stroke="#111" stroke-width="8.32" stroke-linecap="round" stroke-linejoin="round" /><path d="M749,312C751.3,335.2 761.7,404.7 763,451.0C764.3,497.3 758.0,566.8 757,590" fill="none" stroke="#111" stroke-width="8.32" stroke-linecap="round" stroke-linejoin="round" /><path d="M640,590C653.3,589.2 693.3,588.3 720,585C746.7,581.7 786.7,572.5 800,570" fill="none" stroke="#111" stroke-width="6.40" stroke-linecap="round" stroke-linejoin="round" /><path d="M742,315C750.0,317.5 776.2,319.2 790,330C803.8,340.8 818.3,356.7 825,380C831.7,403.3 831.7,440.0 830,470C828.3,500.0 821.7,540.0 815,560C808.3,580.0 794.2,585.0 790,590" fill="none" stroke="#111" stroke-width="7.68" stroke-linecap="round" stroke-linejoin="round" /><path d="M770,318C775.8,322.5 796.7,328.0 805,345C813.3,362.0 818.8,390.8 820,420C821.2,449.2 817.0,493.3 812,520C807.0,546.7 793.7,570.0 790,580" fill="none" stroke="#111" stroke-width="5.76" stroke-linecap="round" stroke-linejoin="round" /><path d="M800,330C804.7,335.0 821.7,341.7 828,360C834.3,378.3 837.7,410.0 838,440C838.3,470.0 831.3,523.3 830,540" fill="none" stroke="#111" stroke-width="5.76" stroke-linecap="round" stroke-linejoin="round" /><path d="M700,660C710.0,656.7 743.3,645.0 760,640C776.7,635.0 793.3,631.7 800,630" fill="none" stroke="#111" stroke-width="5.12" stroke-linecap="round" stroke-linejoin="round" /><path d="M640,665C650.0,667.5 680.0,670.8 700,680C720.0,689.2 750.0,713.3 760,720" fill="none" stroke="#111" stroke-width="6.40" stroke-linecap="round" stroke-linejoin="round" /></svg>
<svg style="left:200px;top:1010px" width="180" height="120" viewBox="0 0 959.94 639.96"><path d="M0,170C33.3,172.0 150.0,177.0 200,182C250.0,187.0 266.7,194.5 300,200C333.3,205.5 370.0,213.3 400,215C430.0,216.7 453.3,217.2 480,210C506.7,202.8 533.3,190.3 560,172C586.7,153.7 618.3,117.8 640,100C661.7,82.2 671.7,78.3 690,65C708.3,51.7 740.0,27.5 750,20" fill="none" stroke="#111" stroke-width="5.33" stroke-linecap="round" stroke-linejoin="round" /><path d="M30,130 L60,20" fill="none" stroke="#111" stroke-width="4.27" stroke-linecap="round" stroke-linejoin="round" /><path d="M410,140 L480,20" fill="none" stroke="#111" stroke-width="4.27" stroke-linecap="round" stroke-linejoin="round" /><path d="M690,70C692.5,83.3 699.7,125.3 705,150C710.3,174.7 719.2,206.7 722,218" fill="none" stroke="#111" stroke-width="5.33" stroke-linecap="round" stroke-linejoin="round" /><path d="M745,62C750.5,67.0 770.8,75.7 778,92C785.2,108.3 790.7,140.3 788,160C785.3,179.7 773.0,200.0 762,210C751.0,220.0 728.7,218.3 722,220" fill="none" stroke="#111" stroke-width="5.33" stroke-linecap="round" stroke-linejoin="round" /><path d="M712,72C714.7,85.0 723.3,126.7 728,150C732.7,173.3 738.0,201.7 740,212" fill="none" stroke="#111" stroke-width="4.27" stroke-linecap="round" stroke-linejoin="round" /><path d="M660,80C665.0,78.3 675.8,73.0 690,70C704.2,67.0 735.8,63.3 745,62" fill="none" stroke="#111" stroke-width="5.33" stroke-linecap="round" stroke-linejoin="round" /><path d="M0,245 L700,236" fill="none" stroke="#111" stroke-width="5.33" stroke-linecap="round" stroke-linejoin="round" /><path d="M120,180C112.5,187.8 116.7,213.7 125,222C133.3,230.3 155.0,230.0 170,230C185.0,230.0 207.5,230.0 215,222C222.5,214.0 222.5,189.8 215,182C207.5,174.2 185.8,175.3 170,175C154.2,174.7 127.5,172.2 120,180Z" fill="#fff" stroke="#111" stroke-width="5.33" stroke-linecap="round" stroke-linejoin="round" /><path d="M575,282C575.8,277.7 580.8,272.7 585,272C589.2,271.3 597.8,274.0 600,278C602.2,282.0 601.3,292.7 598,296C594.7,299.3 583.8,300.3 580,298C576.2,295.7 574.2,286.3 575,282Z" fill="none" stroke="#111" stroke-width="5.33" stroke-linecap="round" stroke-linejoin="round" /><path d="M560,310C583.3,300.3 651.7,285.3 700,252C748.3,218.7 825.0,133.7 850,110" fill="none" stroke="#111" stroke-width="5.33" stroke-linecap="round" stroke-linejoin="round" /><path d="M540,330C570.0,320.3 668.3,302.0 720,272C771.7,242.0 828.3,170.3 850,150" fill="none" stroke="#111" stroke-width="5.33" stroke-linecap="round" stroke-linejoin="round" /><path d="M560,345C565.0,336.7 580.0,330.0 590,330C600.0,330.0 615.8,335.8 620,345C624.2,354.2 620.8,376.7 615,385C609.2,393.3 594.2,395.8 585,395C575.8,394.2 564.2,388.3 560,380C555.8,371.7 555.0,353.3 560,345Z" fill="none" stroke="#111" stroke-width="5.33" stroke-linecap="round" stroke-linejoin="round" /><circle cx="440" cy="485" r="38" fill="none" stroke="#111" stroke-width="5.3"/><circle cx="450" cy="480" r="18" fill="none" stroke="#111" stroke-width="4.5"/><path d="M300,300C313.3,300.0 355.0,299.2 380,300C405.0,300.8 426.7,300.0 450,305C473.3,310.0 508.3,325.8 520,330" fill="none" stroke="#111" stroke-width="5.33" stroke-linecap="round" stroke-linejoin="round" /><path d="M380,420C391.7,416.7 426.7,410.0 450,400C473.3,390.0 508.3,366.7 520,360" fill="none" stroke="#111" stroke-width="5.33" stroke-linecap="round" stroke-linejoin="round" /><path d="M430,305C436.7,309.2 460.0,319.2 470,330C480.0,340.8 488.3,358.3 490,370C491.7,381.7 481.7,395.0 480,400" fill="none" stroke="#111" stroke-width="4.80" stroke-linecap="round" stroke-linejoin="round" /><path d="M260,260C266.7,258.3 288.3,250.8 300,250C311.7,249.2 321.7,250.0 330,255C338.3,260.0 346.7,275.8 350,280" fill="none" stroke="#111" stroke-width="5.33" stroke-linecap="round" stroke-linejoin="round" /><path d="M340,255C343.3,253.8 346.7,248.8 360,248C373.3,247.2 408.3,246.3 420,250C431.7,253.7 430.0,261.7 430,270C430.0,278.3 421.7,295.0 420,300" fill="none" stroke="#111" stroke-width="5.33" stroke-linecap="round" stroke-linejoin="round" /><path d="M312,290C318.7,300.0 342.0,326.7 352,350C362.0,373.3 374.0,398.3 372,430C370.0,461.7 345.3,521.7 340,540" fill="none" stroke="#111" stroke-width="6.93" stroke-linecap="round" stroke-linejoin="round" /><path d="M330,285C337.5,295.8 364.7,325.8 375,350C385.3,374.2 394.5,397.5 392,430C389.5,462.5 365.3,525.8 360,545" fill="none" stroke="#111" stroke-width="5.33" stroke-linecap="round" stroke-linejoin="round" /><path d="M285,400 L330,395" fill="none" stroke="#111" stroke-width="6.40" stroke-linecap="round" stroke-linejoin="round" /><path d="M0,280C6.7,280.8 28.3,278.3 40,285C51.7,291.7 64.2,297.5 70,320C75.8,342.5 77.5,393.3 75,420C72.5,446.7 67.5,466.7 55,480C42.5,493.3 9.2,496.7 0,500" fill="none" stroke="#111" stroke-width="6.40" stroke-linecap="round" stroke-linejoin="round" /><path d="M420,520C436.7,513.3 490.0,496.7 520,480C550.0,463.3 586.7,430.0 600,420" fill="none" stroke="#111" stroke-width="5.33" stroke-linecap="round" stroke-linejoin="round" /><path d="M700,380C715.0,383.3 760.0,393.3 790,400C820.0,406.7 865.0,416.7 880,420" fill="none" stroke="#111" stroke-width="5.33" stroke-linecap="round" stroke-linejoin="round" /><path d="M620,470C641.7,470.0 706.7,471.7 750,470C793.3,468.3 858.3,461.7 880,460" fill="none" stroke="#111" stroke-width="5.33" stroke-linecap="round" stroke-linejoin="round" /><path d="M700,540C713.3,543.3 755.0,556.7 780,560C805.0,563.3 838.3,560.0 850,560" fill="none" stroke="#111" stroke-width="5.33" stroke-linecap="round" stroke-linejoin="round" /><path d="M780,520C788.3,523.3 816.7,526.7 830,540C843.3,553.3 855.0,590.0 860,600" fill="none" stroke="#111" stroke-width="5.33" stroke-linecap="round" stroke-linejoin="round" /><path d="M720,300C726.7,306.7 750.0,323.3 760,340C770.0,356.7 776.7,390.0 780,400" fill="none" stroke="#111" stroke-width="4.27" stroke-linecap="round" stroke-linejoin="round" /><path d="M610,230C625.0,233.3 675.0,235.0 700,250C725.0,265.0 743.3,291.7 760,320C776.7,348.3 793.3,403.3 800,420" fill="none" stroke="#111" stroke-width="4.27" stroke-linecap="round" stroke-linejoin="round" /></svg>
<svg style="left:84px;top:1100px" width="180" height="122" viewBox="0 0 959.94 650.63"><path d="M50,0C53.3,8.3 60.0,37.0 70,50C80.0,63.0 95.0,74.7 110,78C125.0,81.3 148.3,78.0 160,70C171.7,62.0 176.7,36.7 180,30" fill="none" stroke="#111" stroke-width="4.80" stroke-linecap="round" stroke-linejoin="round" /><path d="M30,110C45.0,113.3 91.7,123.3 120,130C148.3,136.7 175.0,141.7 200,150C225.0,158.3 258.3,175.0 270,180" fill="none" stroke="#111" stroke-width="5.33" stroke-linecap="round" stroke-linejoin="round" /><path d="M20,230C36.7,227.5 90.0,223.3 120,215C150.0,206.7 181.7,192.5 200,180C218.3,167.5 225.0,146.7 230,140" fill="none" stroke="#111" stroke-width="5.33" stroke-linecap="round" stroke-linejoin="round" /><path d="M10,262C28.3,265.0 80.0,275.0 120,280C160.0,285.0 228.3,290.0 250,292" fill="none" stroke="#111" stroke-width="5.33" stroke-linecap="round" stroke-linejoin="round" /><path d="M20,300C26.7,313.3 46.7,355.0 60,380C73.3,405.0 90.0,426.7 100,450C110.0,473.3 116.7,508.3 120,520" fill="none" stroke="#111" stroke-width="4.80" stroke-linecap="round" stroke-linejoin="round" /><path d="M40,380C46.7,390.0 70.0,421.7 80,440C90.0,458.3 96.7,481.7 100,490" fill="none" stroke="#111" stroke-width="4.80" stroke-linecap="round" stroke-linejoin="round" /><path d="M95,525C120.8,522.8 199.2,515.3 250,512C300.8,508.7 375.0,506.2 400,505" fill="none" stroke="#111" stroke-width="4.80" stroke-linecap="round" stroke-linejoin="round" /><path d="M400,462C413.3,458.3 456.7,442.8 480,440C503.3,437.2 522.5,441.3 540,445C557.5,448.7 577.5,459.2 585,462" fill="none" stroke="#111" stroke-width="5.33" stroke-linecap="round" stroke-linejoin="round" /><path d="M462,452C452.3,457.8 462.0,478.3 470,485C478.0,491.7 500.0,492.8 510,492C520.0,491.2 527.0,487.0 530,480C533.0,473.0 539.3,454.7 528,450C516.7,445.3 471.7,446.2 462,452Z" fill="none" stroke="#111" stroke-width="5.33" stroke-linecap="round" stroke-linejoin="round" /><path d="M180,290 L210,510" fill="none" stroke="#111" stroke-width="4.27" stroke-linecap="round" stroke-linejoin="round" /><path d="M650,510 L720,390" fill="none" stroke="#111" stroke-width="4.27" stroke-linecap="round" stroke-linejoin="round" /><path d="M780,570 L900,450" fill="none" stroke="#111" stroke-width="4.27" stroke-linecap="round" stroke-linejoin="round" /><path d="M900,400 L940,570" fill="none" stroke="#111" stroke-width="4.27" stroke-linecap="round" stroke-linejoin="round" /><path d="M560,430L580,520" fill="none" stroke="#111" stroke-width="4.27" stroke-linecap="round" stroke-linejoin="round" /><path d="M355,20 L555,82 L528,215 L500,262 L458,410 L250,342 L305,162 L330,110Z" fill="#fff" stroke="#111" stroke-width="6.40" stroke-linecap="round" stroke-linejoin="round" /><path d="M300,160 L510,222" fill="none" stroke="#111" stroke-width="5.33" stroke-linecap="round" stroke-linejoin="round" /><path d="M372,95C377.8,85.8 395.3,69.2 410,70C424.7,70.8 441.7,85.0 460,100C478.3,115.0 508.3,145.0 520,160C531.7,175.0 535.0,184.2 530,190C525.0,195.8 501.7,196.7 490,195C478.3,193.3 475.0,187.5 460,180C445.0,172.5 414.2,159.2 400,150C385.8,140.8 379.7,134.2 375,125C370.3,115.8 366.2,104.2 372,95Z" fill="none" stroke="#111" stroke-width="5.33" stroke-linecap="round" stroke-linejoin="round" /><path d="M420,68C428.3,73.3 453.3,86.3 470,100C486.7,113.7 511.7,141.7 520,150" fill="none" stroke="#111" stroke-width="6.40" stroke-linecap="round" stroke-linejoin="round" /><path d="M490,80C495.0,85.0 511.7,98.3 520,110C528.3,121.7 536.7,143.3 540,150" fill="none" stroke="#111" stroke-width="4.80" stroke-linecap="round" stroke-linejoin="round" /><path d="M500,220 L545,232 L540,300 L498,292Z" fill="#fff" stroke="#111" stroke-width="5.33" stroke-linecap="round" stroke-linejoin="round" /><path d="M545,240 L582,258 L575,305 L540,298Z" fill="#fff" stroke="#111" stroke-width="5.33" stroke-linecap="round" stroke-linejoin="round" /><path d="M570,300 L600,180 L650,170 L640,310Z" fill="#fff" stroke="#111" stroke-width="5.33" stroke-linecap="round" stroke-linejoin="round" /><path d="M585,230C589.2,220.0 619.2,195.0 630,190C640.8,185.0 654.2,190.0 650,200C645.8,210.0 615.8,245.0 605,250C594.2,255.0 580.8,240.0 585,230Z" fill="none" stroke="#111" stroke-width="5.33" stroke-linecap="round" stroke-linejoin="round" /><path d="M640,282 L832,341" fill="none" stroke="#111" stroke-width="6.93" stroke-linecap="round" stroke-linejoin="round" /><path d="M635,320 L832,388" fill="none" stroke="#111" stroke-width="6.93" stroke-linecap="round" stroke-linejoin="round" /><ellipse cx="575" cy="375" rx="80" ry="40" transform="rotate(12 575 375)" fill="#fff" stroke="#111" stroke-width="6"/><ellipse cx="578" cy="352" rx="52" ry="20" transform="rotate(12 578 352)" fill="#fff" stroke="#111" stroke-width="5"/><path d="M495.984932752389,381.2573786016092 L495.984932752389,367.2573786016092" fill="none" stroke="#111" stroke-width="3.20" stroke-linecap="round" stroke-linejoin="round" /><path d="M498.37993466520555,386.50397309728066 L498.37993466520555,372.50397309728066" fill="none" stroke="#111" stroke-width="3.20" stroke-linecap="round" stroke-linejoin="round" /><path d="M502.16179626729473,391.54234019866084 L502.16179626729473,377.54234019866084" fill="none" stroke="#111" stroke-width="3.20" stroke-linecap="round" stroke-linejoin="round" /><path d="M507.2620640617373,396.2812830606135 L507.2620640617373,382.2812830606135" fill="none" stroke="#111" stroke-width="3.20" stroke-linecap="round" stroke-linejoin="round" /><path d="M513.5884207713591,400.63502455940096 L513.5884207713591,386.63502455940096" fill="none" stroke="#111" stroke-width="3.20" stroke-linecap="round" stroke-linejoin="round" /><path d="M521.026356325434,404.52475989949363 L521.026356325434,390.52475989949363" fill="none" stroke="#111" stroke-width="3.20" stroke-linecap="round" stroke-linejoin="round" /><path d="M529.4412405465239,407.8800830179164 L529.4412405465239,393.8800830179164" fill="none" stroke="#111" stroke-width="3.20" stroke-linecap="round" stroke-linejoin="round" /><path d="M538.6807600208363,410.6402609675347 L538.6807600208363,396.6402609675347" fill="none" stroke="#111" stroke-width="3.20" stroke-linecap="round" stroke-linejoin="round" /><path d="M548.5776750435866,412.7553332123347 L548.5776750435866,398.7553332123347" fill="none" stroke="#111" stroke-width="3.20" stroke-linecap="round" stroke-linejoin="round" /><path d="M558.9528467373382,414.1870159369294 L558.9528467373382,400.1870159369294" fill="none" stroke="#111" stroke-width="3.20" stroke-linecap="round" stroke-linejoin="round" /><path d="M569.6184795510368,414.90939500185823 L569.6184795510368,400.90939500185823" fill="none" stroke="#111" stroke-width="3.20" stroke-linecap="round" stroke-linejoin="round" /><path d="M580.3815204489632,414.90939500185823 L580.3815204489632,400.90939500185823" fill="none" stroke="#111" stroke-width="3.20" stroke-linecap="round" stroke-linejoin="round" /><path d="M591.0471532626618,414.1870159369294 L591.0471532626618,400.1870159369294" fill="none" stroke="#111" stroke-width="3.20" stroke-linecap="round" stroke-linejoin="round" /><path d="M601.4223249564134,412.7553332123347 L601.4223249564134,398.7553332123347" fill="none" stroke="#111" stroke-width="3.20" stroke-linecap="round" stroke-linejoin="round" /><path d="M611.3192399791637,410.6402609675347 L611.3192399791637,396.6402609675347" fill="none" stroke="#111" stroke-width="3.20" stroke-linecap="round" stroke-linejoin="round" /><path d="M620.5587594534762,407.8800830179164 L620.5587594534762,393.8800830179164" fill="none" stroke="#111" stroke-width="3.20" stroke-linecap="round" stroke-linejoin="round" /><path d="M628.9736436745659,404.52475989949363 L628.9736436745659,390.52475989949363" fill="none" stroke="#111" stroke-width="3.20" stroke-linecap="round" stroke-linejoin="round" /><path d="M636.4115792286409,400.63502455940096 L636.4115792286409,386.63502455940096" fill="none" stroke="#111" stroke-width="3.20" stroke-linecap="round" stroke-linejoin="round" /><path d="M642.7379359382627,396.2812830606135 L642.7379359382627,382.2812830606135" fill="none" stroke="#111" stroke-width="3.20" stroke-linecap="round" stroke-linejoin="round" /><path d="M647.8382037327053,391.54234019866084 L647.8382037327053,377.54234019866084" fill="none" stroke="#111" stroke-width="3.20" stroke-linecap="round" stroke-linejoin="round" /><path d="M651.6200653347944,386.5039730972807 L651.6200653347944,372.5039730972807" fill="none" stroke="#111" stroke-width="3.20" stroke-linecap="round" stroke-linejoin="round" /><path d="M654.015067247611,381.2573786016092 L654.015067247611,367.2573786016092" fill="none" stroke="#111" stroke-width="3.20" stroke-linecap="round" stroke-linejoin="round" /><path d="M600,240 L680,150 L760,60" fill="none" stroke="#111" stroke-width="6.93" stroke-linecap="round" stroke-linejoin="round" /><path d="M640,260 L720,165 L800,70" fill="none" stroke="#111" stroke-width="6.93" stroke-linecap="round" stroke-linejoin="round" /><ellipse cx="730" cy="205" rx="48" ry="26" transform="rotate(15 730 205)" fill="#fff" stroke="#111" stroke-width="5.5"/><path d="M682.5909596514334,209.067296091046 L682.5909596514334,199.067296091046" fill="none" stroke="#111" stroke-width="3.20" stroke-linecap="round" stroke-linejoin="round" /><path d="M685.3281575942895,214.51279089909752 L685.3281575942895,204.51279089909752" fill="none" stroke="#111" stroke-width="3.20" stroke-linecap="round" stroke-linejoin="round" /><path d="M690.1701963647203,219.51006352533813 L690.1701963647203,209.51006352533813" fill="none" stroke="#111" stroke-width="3.20" stroke-linecap="round" stroke-linejoin="round" /><path d="M696.8889295433293,223.82365326602732 L696.8889295433293,213.82365326602732" fill="none" stroke="#111" stroke-width="3.20" stroke-linecap="round" stroke-linejoin="round" /><path d="M705.1677849194725,227.25031307983764 L705.1677849194725,217.25031307983764" fill="none" stroke="#111" stroke-width="3.20" stroke-linecap="round" stroke-linejoin="round" /><path d="M714.6166806907692,229.62858614990412 L714.6166806907692,219.62858614990412" fill="none" stroke="#111" stroke-width="3.20" stroke-linecap="round" stroke-linejoin="round" /><path d="M724.7904052759665,230.84641338066646 L724.7904052759665,220.84641338066646" fill="none" stroke="#111" stroke-width="3.20" stroke-linecap="round" stroke-linejoin="round" /><path d="M735.2095947240335,230.84641338066646 L735.2095947240335,220.84641338066646" fill="none" stroke="#111" stroke-width="3.20" stroke-linecap="round" stroke-linejoin="round" /><path d="M745.3833193092308,229.62858614990412 L745.3833193092308,219.62858614990412" fill="none" stroke="#111" stroke-width="3.20" stroke-linecap="round" stroke-linejoin="round" /><path d="M754.8322150805275,227.25031307983764 L754.8322150805275,217.25031307983764" fill="none" stroke="#111" stroke-width="3.20" stroke-linecap="round" stroke-linejoin="round" /><path d="M763.1110704566707,223.82365326602735 L763.1110704566707,213.82365326602735" fill="none" stroke="#111" stroke-width="3.20" stroke-linecap="round" stroke-linejoin="round" /><path d="M769.8298036352797,219.51006352533813 L769.8298036352797,209.51006352533813" fill="none" stroke="#111" stroke-width="3.20" stroke-linecap="round" stroke-linejoin="round" /><path d="M774.6718424057105,214.51279089909752 L774.6718424057105,204.51279089909752" fill="none" stroke="#111" stroke-width="3.20" stroke-linecap="round" stroke-linejoin="round" /><path d="M777.4090403485666,209.067296091046 L777.4090403485666,199.067296091046" fill="none" stroke="#111" stroke-width="3.20" stroke-linecap="round" stroke-linejoin="round" /><path d="M700,110C706.7,100.0 741.7,90.0 760,90C778.3,90.0 806.7,101.7 810,110C813.3,118.3 795.0,133.3 780,140C765.0,146.7 733.3,155.0 720,150C706.7,145.0 693.3,120.0 700,110Z" fill="#fff" stroke="#111" stroke-width="5.33" stroke-linecap="round" stroke-linejoin="round" /><path d="M740,40C745.0,30.0 773.3,20.0 790,20C806.7,20.0 835.0,31.7 840,40C845.0,48.3 833.3,63.3 820,70C806.7,76.7 773.3,85.0 760,80C746.7,75.0 735.0,50.0 740,40Z" fill="#fff" stroke="#111" stroke-width="5.33" stroke-linecap="round" stroke-linejoin="round" /><path d="M830,170C836.7,165.0 848.3,148.3 870,140C891.7,131.7 945.0,123.3 960,120" fill="none" stroke="#111" stroke-width="4.27" stroke-linecap="round" stroke-linejoin="round" /><path d="M850,250C855.0,240.0 865.0,201.7 880,190C895.0,178.3 930.0,181.7 940,180" fill="none" stroke="#111" stroke-width="4.27" stroke-linecap="round" stroke-linejoin="round" /><circle cx="910" cy="222" r="16" fill="none" stroke="#111" stroke-width="5"/></svg>
<svg style="left:240px;top:1110px" width="140" height="112" viewBox="0 0 959.98 767.98"><path d="M0,370 L590,570" fill="none" stroke="#111" stroke-width="8.91" stroke-linecap="round" stroke-linejoin="round" /><path d="M0,430 L575,632" fill="none" stroke="#111" stroke-width="8.91" stroke-linecap="round" stroke-linejoin="round" /><path d="M560,572C565.0,571.3 583.3,564.2 590,568C596.7,571.8 600.8,584.3 600,595C599.2,605.7 590.0,625.8 585,632C580.0,638.2 572.5,632.0 570,632" fill="none" stroke="#111" stroke-width="8.23" stroke-linecap="round" stroke-linejoin="round" /><path d="M562,575 L552,625" fill="none" stroke="#111" stroke-width="5.49" stroke-linecap="round" stroke-linejoin="round" /><path d="M575,573 L566,630" fill="none" stroke="#111" stroke-width="5.49" stroke-linecap="round" stroke-linejoin="round" /><path d="M100,30C125.0,45.0 211.7,95.0 250,120C288.3,145.0 310.0,170.0 330,180C350.0,190.0 363.3,180.0 370,180" fill="none" stroke="#111" stroke-width="6.17" stroke-linecap="round" stroke-linejoin="round" /><path d="M320,210C336.7,218.3 390.0,251.3 420,260C450.0,268.7 468.3,266.2 500,262C531.7,257.8 591.7,239.5 610,235" fill="none" stroke="#111" stroke-width="6.86" stroke-linecap="round" stroke-linejoin="round" /><path d="M380,490C379.2,471.7 368.3,403.3 375,380C381.7,356.7 399.2,369.2 420,350C440.8,330.8 486.7,279.2 500,265" fill="none" stroke="#111" stroke-width="6.86" stroke-linecap="round" stroke-linejoin="round" /><path d="M400,500C399.2,481.7 388.3,413.3 395,390C401.7,366.7 412.5,382.5 440,360C467.5,337.5 540.0,272.5 560,255" fill="none" stroke="#111" stroke-width="6.86" stroke-linecap="round" stroke-linejoin="round" /><path d="M20,240C33.3,228.3 70.0,186.7 100,170C130.0,153.3 183.3,145.0 200,140" fill="none" stroke="#111" stroke-width="6.86" stroke-linecap="round" stroke-linejoin="round" /><path d="M10,300C15.0,291.7 31.7,261.7 40,250C48.3,238.3 56.7,233.3 60,230" fill="none" stroke="#111" stroke-width="5.49" stroke-linecap="round" stroke-linejoin="round" /><circle cx="100" cy="215" r="28" fill="none" stroke="#111" stroke-width="6"/><path d="M75,350C79.2,338.3 85.8,298.3 100,280C114.2,261.7 150.0,246.7 160,240" fill="none" stroke="#111" stroke-width="6.86" stroke-linecap="round" stroke-linejoin="round" /><path d="M100,470 L135,660" fill="none" stroke="#111" stroke-width="6.17" stroke-linecap="round" stroke-linejoin="round" /><path d="M0,600 L100,520" fill="none" stroke="#111" stroke-width="6.17" stroke-linecap="round" stroke-linejoin="round" /><path d="M450,370C468.3,381.7 520.0,398.3 560,440C600.0,481.7 668.3,590.0 690,620" fill="none" stroke="#111" stroke-width="5.49" stroke-linecap="round" stroke-linejoin="round" /><path d="M590,380C608.3,395.0 660.0,451.7 700,470C740.0,488.3 808.3,486.7 830,490" fill="none" stroke="#111" stroke-width="6.86" stroke-linecap="round" stroke-linejoin="round" /><path d="M640,250C658.3,256.7 713.3,285.8 750,290C786.7,294.2 841.7,277.5 860,275" fill="none" stroke="#111" stroke-width="6.86" stroke-linecap="round" stroke-linejoin="round" /><path d="M540,0C558.3,8.3 603.3,33.3 650,50C696.7,66.7 791.7,91.7 820,100" fill="none" stroke="#111" stroke-width="6.86" stroke-linecap="round" stroke-linejoin="round" /><path d="M640,100L700,40" fill="none" stroke="#111" stroke-width="5.49" stroke-linecap="round" stroke-linejoin="round" /><path d="M760,0C770.0,6.7 808.3,23.3 820,40C831.7,56.7 828.3,90.0 830,100" fill="none" stroke="#111" stroke-width="5.49" stroke-linecap="round" stroke-linejoin="round" /><path d="M410,500 L412,610" fill="none" stroke="#111" stroke-width="4.80" stroke-linecap="round" stroke-linejoin="round" /></svg>
<svg style="left:190px;top:1060px" width="80" height="80" viewBox="0 0 960.00 960.00"><path d="M0,0C10.0,10.0 45.0,26.7 60,60C75.0,93.3 86.7,146.7 90,200C93.3,253.3 88.3,335.0 80,380C71.7,425.0 53.3,450.0 40,470C26.7,490.0 6.7,495.0 0,500" fill="none" stroke="#111" stroke-width="19.20" stroke-linecap="round" stroke-linejoin="round" /><path d="M110,20C120.0,30.0 155.0,46.7 170,80C185.0,113.3 196.7,170.0 200,220C203.3,270.0 198.3,338.3 190,380C181.7,421.7 165.0,451.7 150,470C135.0,488.3 108.3,486.7 100,490" fill="none" stroke="#111" stroke-width="19.20" stroke-linecap="round" stroke-linejoin="round" /><path d="M180,30C190.0,41.7 225.0,65.0 240,100C255.0,135.0 266.7,193.3 270,240C273.3,286.7 268.3,341.7 260,380C251.7,418.3 235.0,450.0 220,470C205.0,490.0 178.3,495.0 170,500" fill="none" stroke="#111" stroke-width="19.20" stroke-linecap="round" stroke-linejoin="round" /><path d="M220,40C226.7,51.7 249.2,75.0 260,110C270.8,145.0 282.5,203.3 285,250C287.5,296.7 280.8,356.7 275,390C269.2,423.3 254.2,440.0 250,450" fill="none" stroke="#111" stroke-width="10.80" stroke-linecap="round" stroke-linejoin="round" /><path d="M330,210C346.7,185.0 368.3,160.3 400,150C431.7,139.7 478.3,139.7 520,148C561.7,156.3 610.0,176.3 650,200C690.0,223.7 735.0,260.0 760,290C785.0,320.0 795.0,353.3 800,380C805.0,406.7 800.0,423.3 790,450C780.0,476.7 758.3,515.0 740,540C721.7,565.0 706.7,588.3 680,600C653.3,611.7 616.7,616.7 580,610C543.3,603.3 495.0,581.7 460,560C425.0,538.3 395.0,510.0 370,480C345.0,450.0 321.7,410.0 310,380C298.3,350.0 296.7,328.3 300,300C303.3,271.7 313.3,235.0 330,210Z" fill="#fff" stroke="#111" stroke-width="19.20" stroke-linecap="round" stroke-linejoin="round" /><path d="M330,290C345.0,305.0 381.7,353.3 420,380C458.3,406.7 513.3,435.0 560,450C606.7,465.0 662.5,471.7 700,470C737.5,468.3 770.8,445.0 785,440" fill="none" stroke="#111" stroke-width="15.60" stroke-linecap="round" stroke-linejoin="round" /><path d="M345,225C357.5,215.8 390.8,179.5 420,170C449.2,160.5 483.3,160.5 520,168C556.7,175.5 603.3,193.0 640,215C676.7,237.0 717.5,272.5 740,300C762.5,327.5 771.7,358.3 775,380C778.3,401.7 762.5,421.7 760,430" fill="none" stroke="#111" stroke-width="10.80" stroke-linecap="round" stroke-linejoin="round" /><path d="M440,320C466.7,336.7 546.7,395.3 600,420C653.3,444.7 733.3,460.0 760,468" fill="none" stroke="#111" stroke-width="12.00" stroke-linecap="round" stroke-linejoin="round" /><path d="M470,440C491.7,450.0 555.0,486.7 600,500C645.0,513.3 716.7,516.7 740,520" fill="none" stroke="#111" stroke-width="12.00" stroke-linecap="round" stroke-linejoin="round" /><path d="M570,295 L730,350" fill="none" stroke="#111" stroke-width="16.80" stroke-linecap="round" stroke-linejoin="round" /><circle cx="572" cy="296" r="10" fill="#111"/><path d="M250,470C276.2,456.7 368.0,420.8 395,420C422.0,419.2 434.5,448.0 412,465C389.5,482.0 289.0,516.2 260,522C231.0,527.8 239.7,508.7 238,500C236.3,491.3 223.8,483.3 250,470Z" fill="#fff" stroke="#111" stroke-width="16.80" stroke-linecap="round" stroke-linejoin="round" /><path d="M770,310 L860,290 L865,310 L780,330" fill="none" stroke="#111" stroke-width="14.40" stroke-linecap="round" stroke-linejoin="round" /><path d="M400,545C403.3,533.3 423.3,527.5 440,530C456.7,532.5 473.3,548.3 500,560C526.7,571.7 581.7,586.7 600,600C618.3,613.3 616.7,631.7 610,640C603.3,648.3 591.7,656.7 560,650C528.3,643.3 446.7,617.5 420,600C393.3,582.5 396.7,556.7 400,545Z" fill="#fff" stroke="#111" stroke-width="16.80" stroke-linecap="round" stroke-linejoin="round" /><path d="M470,620 L600,620 L580,740 L440,720Z" fill="#fff" stroke="#111" stroke-width="16.80" stroke-linecap="round" stroke-linejoin="round" /><path d="M330,680C346.7,668.3 383.3,646.7 420,650C456.7,653.3 526.7,681.7 550,700C573.3,718.3 568.3,745.0 560,760C551.7,775.0 530.0,790.0 500,790C470.0,790.0 410.0,771.7 380,760C350.0,748.3 328.3,733.3 320,720C311.7,706.7 313.3,691.7 330,680Z" fill="#fff" stroke="#111" stroke-width="18.00" stroke-linecap="round" stroke-linejoin="round" /><path d="M380,770C398.3,760.0 456.7,755.0 480,760C503.3,765.0 523.3,786.7 520,800C516.7,813.3 485.0,836.7 460,840C435.0,843.3 383.3,831.7 370,820C356.7,808.3 361.7,780.0 380,770Z" fill="#fff" stroke="#111" stroke-width="18.00" stroke-linecap="round" stroke-linejoin="round" /><path d="M320,720 L120,880 L80,960" fill="none" stroke="#111" stroke-width="19.20" stroke-linecap="round" stroke-linejoin="round" /><path d="M380,820 L220,960" fill="none" stroke="#111" stroke-width="19.20" stroke-linecap="round" stroke-linejoin="round" /><path d="M110,840 L200,880 L260,960" fill="none" stroke="#111" stroke-width="16.80" stroke-linecap="round" stroke-linejoin="round" /><path d="M830,40C841.7,53.3 881.7,76.7 900,120C918.3,163.3 936.7,240.0 940,300C943.3,360.0 935.0,426.7 920,480C905.0,533.3 861.7,596.7 850,620" fill="none" stroke="#111" stroke-width="19.20" stroke-linecap="round" stroke-linejoin="round" /><path d="M880,40C891.7,55.0 936.7,86.7 950,130C963.3,173.3 958.3,271.7 960,300" fill="none" stroke="#111" stroke-width="12.00" stroke-linecap="round" stroke-linejoin="round" /><path d="M700,600 L760,620 L850,630" fill="none" stroke="#111" stroke-width="16.80" stroke-linecap="round" stroke-linejoin="round" /><path d="M20,640C33.3,653.3 73.3,700.0 100,720C126.7,740.0 166.7,753.3 180,760" fill="none" stroke="#111" stroke-width="10.80" stroke-linecap="round" stroke-linejoin="round" /><path d="M60,630 L240,590" fill="none" stroke="#111" stroke-width="9.60" stroke-linecap="round" stroke-linejoin="round" /><path d="M600,740L700,700" fill="none" stroke="#111" stroke-width="9.60" stroke-linecap="round" stroke-linejoin="round" /><path d="M770,650C791.7,668.3 868.3,735.0 900,760C931.7,785.0 950.0,793.3 960,800" fill="none" stroke="#111" stroke-width="10.80" stroke-linecap="round" stroke-linejoin="round" /></svg>
<div class="t" style="left:378.00px;top:68.22px;font-size:21.5px;line-height:21.5px;font-weight:bold;-webkit-text-stroke:0.2px currentColor;transform:scaleX(0.9590);transform-origin:0 0;">ON-VEHICLE SERVICE</div>
<svg style="left:0;top:0" width="960" height="120"><path d="M88,92.6 L893,91.6" stroke="#000" stroke-width="3"/></svg>
<div class="t" style="left:403.00px;top:120.95px;font-size:21.0px;line-height:21.0px;font-weight:bold;letter-spacing:-0.072px;-webkit-text-stroke:0.2px currentColor;">Checking Steering Wheel Play</div>
<div class="bu" style="left:402.60px;top:155.60px;width:8.8px;height:8.8px"></div>
<div class="t" style="left:430.75px;top:149.98px;font-size:16.2px;line-height:16.2px;letter-spacing:0.620px;word-spacing:4.019px;">With wheels in a straight-ahead position, check steering</div>
<div class="t" style="left:430.83px;top:168.73px;font-size:16.2px;line-height:16.2px;letter-spacing:0.905px;">wheel play.</div>
<div class="t" style="left:442.50px;top:187.82px;font-size:15.8px;line-height:15.8px;font-weight:bold;letter-spacing:0.411px;">Steering wheel play:</div>
<div class="t" style="left:469.50px;top:206.57px;font-size:15.8px;line-height:15.8px;font-weight:bold;letter-spacing:0.488px;">35 mm (1.38 in) or less</div>
<div class="bu" style="left:402.35px;top:231.10px;width:8.8px;height:8.8px"></div>
<div class="t" style="left:430.75px;top:225.48px;font-size:16.2px;line-height:16.2px;letter-spacing:0.620px;word-spacing:0.608px;">If it is not within specification, check the following for loose</div>
<div class="t" style="left:430.75px;top:244.48px;font-size:16.2px;line-height:16.2px;letter-spacing:0.736px;">or worn components.</div>
<div class="t" style="left:464.50px;top:264.07px;font-size:15.8px;line-height:15.8px;font-weight:bold;letter-spacing:0.475px;">Steering gear assembly</div>
<div class="t" style="left:464.50px;top:282.82px;font-size:15.8px;line-height:15.8px;font-weight:bold;letter-spacing:0.329px;">Steering column</div>
<div class="t" style="left:464.50px;top:301.57px;font-size:15.8px;line-height:15.8px;font-weight:bold;letter-spacing:0.351px;">Front suspension and axle</div>
<div class="t" style="left:403.00px;top:342.15px;font-size:21.0px;line-height:21.0px;font-weight:bold;letter-spacing:-0.056px;-webkit-text-stroke:0.2px currentColor;">Checking Neutral Position on Steering Wheel</div>
<div class="t" style="left:403.00px;top:376.63px;font-size:17.2px;line-height:17.2px;font-weight:bold;letter-spacing:0.158px;-webkit-text-stroke:0.2px currentColor;">Pre-checking</div>
<div class="bu" style="left:402.30px;top:406.80px;width:8.8px;height:8.8px"></div>
<div class="t" style="left:430.75px;top:401.23px;font-size:16.2px;line-height:16.2px;letter-spacing:0.735px;">Make sure that wheel alignment is correct.</div>
<div class="t" style="left:442.50px;top:419.57px;font-size:15.8px;line-height:15.8px;font-weight:bold;letter-spacing:0.278px;">Wheel alignment:</div>
<div class="t" style="left:469.50px;top:438.57px;font-size:15.8px;line-height:15.8px;font-weight:bold;letter-spacing:0.442px;">Refer to SDS in FA section.</div>
<div class="bu" style="left:402.35px;top:463.10px;width:8.8px;height:8.8px"></div>
<div class="t" style="left:430.75px;top:457.48px;font-size:16.2px;line-height:16.2px;letter-spacing:0.620px;word-spacing:2.984px;">Verify that the steering gear is centered before removing</div>
<div class="t" style="left:430.75px;top:476.98px;font-size:16.2px;line-height:16.2px;letter-spacing:0.664px;">the steering wheel.</div>
<div class="t" style="left:402.00px;top:514.88px;font-size:17.2px;line-height:17.2px;font-weight:bold;letter-spacing:0.121px;-webkit-text-stroke:0.2px currentColor;">Checking</div>
<div class="t" style="left:403.75px;top:539.23px;font-size:16.2px;line-height:16.2px;letter-spacing:0.620px;">1.</div>
<div class="t" style="left:430.00px;top:539.23px;font-size:16.2px;line-height:16.2px;letter-spacing:0.466px;word-spacing:0.300px;">Check that the steering wheel is in the neutral position when</div>
<div class="t" style="left:430.00px;top:557.48px;font-size:16.2px;line-height:16.2px;letter-spacing:0.763px;">driving straight ahead.</div>
<div class="t" style="left:403.00px;top:577.23px;font-size:16.2px;line-height:16.2px;letter-spacing:0.620px;">2.</div>
<div class="t" style="left:430.00px;top:577.23px;font-size:16.2px;line-height:16.2px;letter-spacing:0.591px;word-spacing:0.300px;">If it is not in the neutral position, remove the steering wheel</div>
<div class="t" style="left:430.00px;top:596.23px;font-size:16.2px;line-height:16.2px;letter-spacing:0.832px;">and reinstall it correctly.</div>
<div class="t" style="left:403.00px;top:614.98px;font-size:16.2px;line-height:16.2px;letter-spacing:0.620px;">3.</div>
<div class="t" style="left:430.00px;top:614.98px;font-size:16.2px;line-height:16.2px;letter-spacing:0.620px;word-spacing:1.771px;">If the neutral position is between two teeth, loosen tie-rod</div>
<div class="t" style="left:430.00px;top:634.23px;font-size:16.2px;line-height:16.2px;letter-spacing:0.591px;word-spacing:0.300px;">lock nuts. Turn the tie-rods by the same amount in opposite</div>
<div class="t" style="left:430.00px;top:653.73px;font-size:16.2px;line-height:16.2px;letter-spacing:0.732px;">directions on both left and right sides.</div>
<div class="t" style="left:402.00px;top:784.15px;font-size:21.0px;line-height:21.0px;font-weight:bold;letter-spacing:0.062px;-webkit-text-stroke:0.2px currentColor;">Front Wheel Turning Angle</div>
<div class="t" style="left:402.00px;top:813.73px;font-size:16.2px;line-height:16.2px;letter-spacing:0.620px;">1.</div>
<div class="t" style="left:429.50px;top:813.73px;font-size:16.2px;line-height:16.2px;letter-spacing:0.620px;word-spacing:2.713px;">Rotate steering wheel all the way right and left; measure</div>
<div class="t" style="left:429.50px;top:832.48px;font-size:16.2px;line-height:16.2px;letter-spacing:0.771px;">turning angle.</div>
<div class="t" style="left:441.25px;top:851.57px;font-size:15.8px;line-height:15.8px;font-weight:bold;letter-spacing:0.350px;">Turning angle of full turns:</div>
<div class="t" style="left:468.00px;top:870.82px;font-size:15.8px;line-height:15.8px;font-weight:bold;letter-spacing:0.438px;">Refer to SDS in FA section.</div>
<div class="t" style="left:401.25px;top:889.48px;font-size:16.2px;line-height:16.2px;letter-spacing:0.620px;">2.</div>
<div class="t" style="left:429.25px;top:889.48px;font-size:16.2px;line-height:16.2px;letter-spacing:0.741px;">If it is not within specification, check rack stroke.</div>
<div class="t" style="left:441.25px;top:908.57px;font-size:15.8px;line-height:15.8px;font-weight:bold;letter-spacing:0.393px;">Rack stroke “S”:</div>
<div class="t" style="left:468.00px;top:927.82px;font-size:15.8px;line-height:15.8px;font-weight:bold;letter-spacing:0.405px;">Refer to SDS (ST-35).</div>
<div class="t" style="left:401.25px;top:1005.90px;font-size:21.0px;line-height:21.0px;font-weight:bold;letter-spacing:0.013px;-webkit-text-stroke:0.2px currentColor;">Checking Gear Housing Movement</div>
<div class="t" style="left:402.00px;top:1034.98px;font-size:16.2px;line-height:16.2px;letter-spacing:0.620px;">1.</div>
<div class="t" style="left:429.25px;top:1034.98px;font-size:16.2px;line-height:16.2px;letter-spacing:0.620px;word-spacing:2.102px;">Check the movement of steering gear housing during sta-</div>
<div class="t" style="left:429.25px;top:1054.23px;font-size:16.2px;line-height:16.2px;letter-spacing:0.767px;">tionary steering on a dry paved surface.</div>
<div class="bu" style="left:401.10px;top:1078.85px;width:8.8px;height:8.8px"></div>
<div class="t" style="left:429.25px;top:1073.23px;font-size:16.2px;line-height:16.2px;letter-spacing:0.428px;word-spacing:0.300px;">Apply a force of 49 N (5 kg, 11 lb) to steering wheel to check</div>
<div class="t" style="left:429.25px;top:1091.73px;font-size:16.2px;line-height:16.2px;letter-spacing:0.725px;">the gear housing movement.</div>
<div class="t" style="left:429.25px;top:1110.48px;font-size:16.2px;line-height:16.2px;letter-spacing:0.765px;">Turn off ignition key while checking.</div>
<div class="t" style="left:440.75px;top:1129.82px;font-size:15.8px;line-height:15.8px;font-weight:bold;letter-spacing:0.370px;">Movement of gear housing:</div>
<div class="t" style="left:470.00px;top:1148.57px;font-size:15.8px;line-height:15.8px;font-weight:bold;letter-spacing:0.625px;"><span style="font-weight:normal">±</span> 2 mm ( <span style="font-weight:normal">±</span> 0.08 in) or less</div>
<div class="t" style="left:402.00px;top:1167.48px;font-size:16.2px;line-height:16.2px;letter-spacing:0.620px;">2.</div>
<div class="t" style="left:429.25px;top:1167.48px;font-size:16.2px;line-height:16.2px;letter-spacing:0.522px;word-spacing:0.300px;">If movement exceeds the limit, replace mount insulator after</div>
<div class="t" style="left:429.25px;top:1186.23px;font-size:16.2px;line-height:16.2px;letter-spacing:0.804px;">confirming proper installation of gear housing clamps.</div>
<div class="t" style="left:464.50px;top:1239.72px;font-size:21.5px;line-height:21.5px;font-weight:bold;-webkit-text-stroke:0.2px currentColor;transform:scaleX(0.9920);transform-origin:0 0;">ST-5</div>
<div class="t" style="left:681.00px;top:1301.99px;font-size:26.6px;line-height:26.6px;letter-spacing:0.224px;color:#8d8d8d;">carmanualsonline.info</div>
<div class="t" style="left:333.90px;top:319.51px;font-size:11.4px;line-height:11.4px;transform:scaleX(0.8874);transform-origin:0 0;">SST489B</div>
<div class="t" style="left:150.00px;top:362.16px;font-size:12.4px;line-height:12.4px;transform:scaleX(0.8818);transform-origin:0 0;">OK</div>
<div class="t" style="left:294.50px;top:361.21px;font-size:12.4px;line-height:12.4px;transform:scaleX(0.8978);transform-origin:0 0;">NG</div>
<div class="t" style="left:326.10px;top:540.08px;font-size:11.2px;line-height:11.2px;transform:scaleX(0.9163);transform-origin:0 0;">SST490BA</div>
<div class="t" style="left:335.90px;top:983.65px;font-size:11.0px;line-height:11.0px;transform:scaleX(0.9411);transform-origin:0 0;">SMA127</div>
<div class="t" style="left:332.20px;top:1205.14px;font-size:10.3px;line-height:10.3px;transform:scaleX(0.9777);transform-origin:0 0;">SST663B</div>
<div class="t" style="left:298.60px;top:1128.19px;font-size:11.3px;line-height:11.3px;letter-spacing:0.421px;">Dial gauge</div>
<div class="rule" style="left:906.3px;top:769.8px;width:54px;height:45px;background:#000"></div>
<div class="t" style="left:913.7px;top:778.8px;font-size:27.6px;line-height:27.6px;color:#fff;transform:scaleX(0.56);transform-origin:0 0">ST</div>
</body></html>
